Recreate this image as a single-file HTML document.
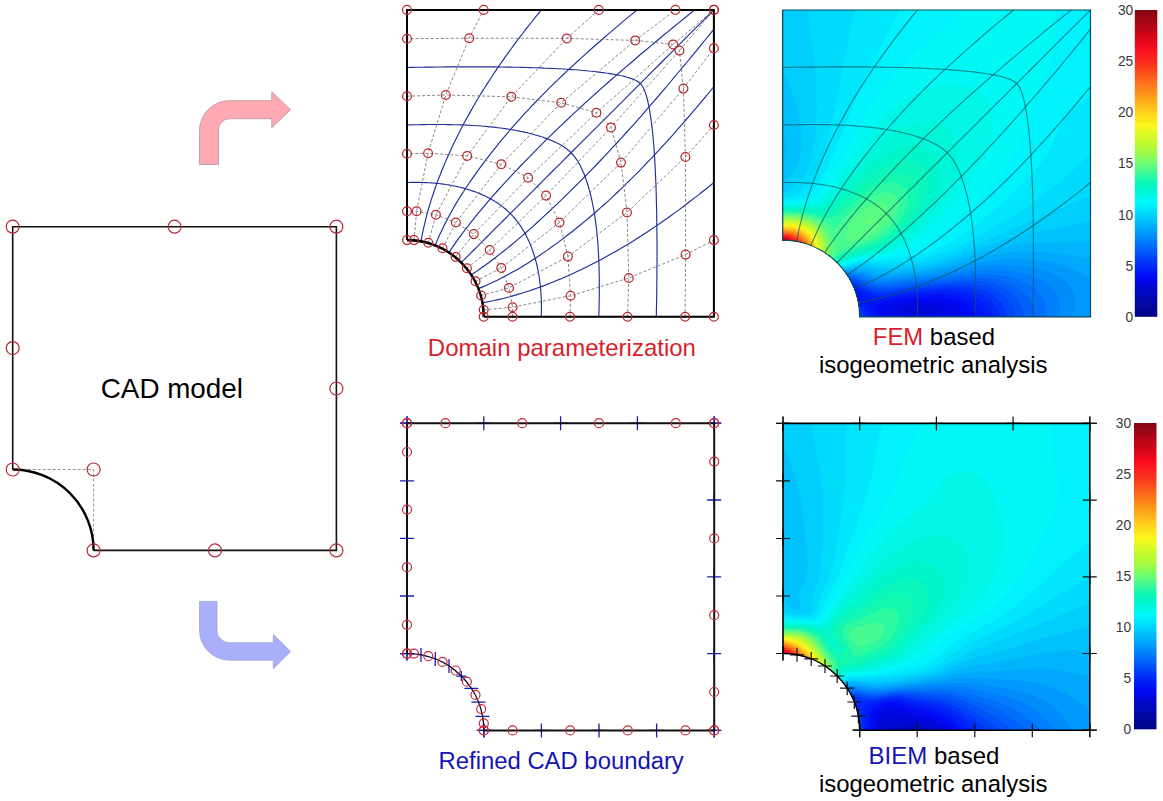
<!DOCTYPE html><html><head><meta charset="utf-8"><style>html,body{margin:0;padding:0;background:#fff}body{width:1163px;height:801px;overflow:hidden}</style></head><body><svg width="1163" height="801" viewBox="0 0 1163 801" style="display:block;font-family:'Liberation Sans',sans-serif">
<rect width="1163" height="801" fill="#fff"/>
<g fill="none">
<path d="M12.7,469.5 H93.6 V550.4" stroke="#777" stroke-width="0.8" stroke-dasharray="3,2"/>
<path d="M12.7,469.5 V226.7 H336.4 V550.4 H93.6" stroke="#111" stroke-width="1.6" stroke-linejoin="miter"/>
<path d="M12.7,469.5 A80.9,80.9 0 0 1 93.6,550.4" stroke="#000" stroke-width="2.4"/>
<g stroke="#b8283a" stroke-width="1.2">
<circle cx="12.7" cy="469.5" r="6.5"/>
<circle cx="12.7" cy="348.1" r="6.5"/>
<circle cx="12.7" cy="226.7" r="6.5"/>
<circle cx="174.6" cy="226.7" r="6.5"/>
<circle cx="336.4" cy="226.7" r="6.5"/>
<circle cx="336.4" cy="388.5" r="6.5"/>
<circle cx="336.4" cy="550.4" r="6.5"/>
<circle cx="215.0" cy="550.4" r="6.5"/>
<circle cx="93.6" cy="550.4" r="6.5"/>
<circle cx="93.6" cy="469.5" r="6.5"/>
</g></g>
<text x="100.8" y="397.7" font-size="27.8" fill="#000">CAD model</text>
<path d="M199.5,164.5 V130.7 A30,30 0 0 1 229.5,100.7 H271.8 V91.7 L290.5,109.7 L271.8,127.7 V118.7 H229.5 A11,11 0 0 0 218.5,129.7 V164.5 Z" fill="#ffa9b2" stroke="#c4a0a8" stroke-width="1"/>
<path d="M199.5,601.4 H217 V630.2 A12.5,12.5 0 0 0 229.5,642.7 H273.3 V634.3 L290.6,651.5 L273.3,668.8 V660.2 H229.5 A30,30 0 0 1 199.5,630.2 Z" fill="#a9affa" stroke="#a3a6d4" stroke-width="0.8"/>
<g fill="none">
<g stroke="#1f2f9a" stroke-width="1.15">
<path d="M482.4,302.8 L486.4,302.1 L490.3,301.3 L494.2,300.5 L498.1,299.6 L502.0,298.7 L506.0,297.7 L509.9,296.7 L513.8,295.6 L517.8,294.4 L521.7,293.2 L525.6,292.0 L529.6,290.7 L533.5,289.4 L537.5,288.0 L541.4,286.6 L545.4,285.1 L549.3,283.5 L553.3,282.0 L557.2,280.3 L561.2,278.7 L565.1,277.0 L569.1,275.2 L573.0,273.4 L577.0,271.6 L581.0,269.7 L584.9,267.8 L588.9,265.8 L592.9,263.8 L596.8,261.8 L600.8,259.7 L604.8,257.5 L608.7,255.3 L612.7,253.1 L616.6,250.9 L620.6,248.6 L624.5,246.2 L628.5,243.9 L632.4,241.5 L636.3,239.0 L640.2,236.5 L644.1,234.0 L648.0,231.4 L652.0,228.8 L655.9,226.1 L659.8,223.5 L663.7,220.7 L667.6,218.0 L671.4,215.2 L675.3,212.4 L679.2,209.6 L683.1,206.7 L686.9,203.8 L690.8,200.8 L694.6,197.9 L698.5,194.9 L702.3,191.8 L706.2,188.8 L710.0,185.7 L713.9,182.5"/>
<path d="M478.3,288.6 L482.1,287.1 L485.9,285.5 L489.7,283.8 L493.4,282.0 L497.3,280.2 L501.1,278.3 L504.9,276.3 L508.7,274.3 L512.6,272.1 L516.5,269.9 L520.4,267.7 L524.3,265.3 L528.2,262.9 L532.1,260.3 L536.1,257.8 L540.1,255.1 L544.0,252.4 L548.0,249.6 L552.0,246.8 L556.0,243.9 L560.0,240.9 L564.0,237.9 L568.0,234.8 L572.0,231.7 L576.0,228.5 L580.1,225.2 L584.1,221.9 L588.2,218.5 L592.3,215.0 L596.4,211.5 L600.4,207.9 L604.5,204.2 L608.6,200.6 L612.7,196.8 L616.7,193.0 L620.8,189.1 L624.9,185.2 L628.9,181.2 L633.0,177.2 L637.1,173.1 L641.2,168.9 L645.2,164.7 L649.3,160.4 L653.4,156.1 L657.5,151.7 L661.6,147.2 L665.7,142.8 L669.7,138.3 L673.8,133.8 L677.8,129.2 L681.8,124.6 L685.8,120.0 L689.9,115.3 L693.9,110.6 L697.9,105.9 L701.9,101.2 L705.9,96.4 L709.9,91.5 L713.9,86.6"/>
<path d="M471.2,274.8 L474.7,272.6 L478.1,270.2 L481.6,267.8 L485.2,265.3 L488.7,262.7 L492.3,260.0 L495.9,257.3 L499.5,254.4 L503.2,251.5 L506.9,248.6 L510.7,245.5 L514.4,242.4 L518.2,239.1 L522.1,235.9 L526.0,232.5 L529.9,229.1 L533.8,225.6 L537.7,222.0 L541.7,218.4 L545.7,214.7 L549.7,211.0 L553.7,207.1 L557.8,203.3 L561.9,199.3 L566.0,195.3 L570.2,191.2 L574.4,187.1 L578.6,182.9 L582.9,178.6 L587.1,174.3 L591.4,169.9 L595.7,165.5 L600.0,161.0 L604.3,156.4 L608.6,151.9 L612.9,147.2 L617.3,142.5 L621.6,137.8 L625.9,133.0 L630.3,128.2 L634.7,123.3 L639.1,118.3 L643.5,113.3 L647.9,108.2 L652.3,103.1 L656.7,98.0 L661.1,92.8 L665.6,87.7 L670.0,82.5 L674.3,77.2 L678.7,72.0 L683.1,66.7 L687.5,61.5 L691.9,56.1 L696.3,50.8 L700.7,45.4 L705.1,40.0 L709.5,34.6 L713.9,29.1"/>
<path d="M461.2,262.6 L464.2,259.6 L467.2,256.6 L470.2,253.6 L473.3,250.5 L476.5,247.3 L479.7,244.1 L483.0,240.8 L486.3,237.5 L489.7,234.1 L493.1,230.7 L496.6,227.2 L500.2,223.6 L503.8,220.0 L507.5,216.3 L511.2,212.6 L515.0,208.8 L518.9,204.9 L522.7,201.1 L526.7,197.1 L530.7,193.1 L534.7,189.1 L538.8,185.0 L542.9,180.9 L547.1,176.7 L551.3,172.5 L555.6,168.2 L560.0,163.8 L564.4,159.4 L568.8,155.0 L573.3,150.5 L577.9,145.9 L582.4,141.4 L587.0,136.8 L591.6,132.2 L596.2,127.6 L600.9,122.9 L605.5,118.3 L610.2,113.6 L615.0,108.8 L619.7,104.1 L624.5,99.3 L629.4,94.4 L634.2,89.6 L639.1,84.7 L644.0,79.8 L648.9,74.9 L653.9,69.9 L658.8,65.0 L663.8,60.0 L668.7,55.1 L673.7,50.1 L678.6,45.2 L683.6,40.2 L688.6,35.2 L693.6,30.2 L698.7,25.1 L703.7,20.1 L708.8,15.0 L713.9,9.9"/>
<path d="M449.0,252.6 L451.2,249.1 L453.6,245.7 L456.0,242.2 L458.5,238.6 L461.1,235.1 L463.8,231.5 L466.5,227.9 L469.4,224.3 L472.3,220.6 L475.2,216.9 L478.3,213.1 L481.4,209.4 L484.7,205.6 L487.9,201.7 L491.3,197.8 L494.7,193.9 L498.2,190.0 L501.8,186.1 L505.4,182.1 L509.1,178.1 L512.8,174.1 L516.7,170.1 L520.5,166.0 L524.5,161.9 L528.5,157.8 L532.6,153.6 L536.7,149.4 L540.9,145.2 L545.2,140.9 L549.5,136.7 L553.9,132.4 L558.3,128.1 L562.8,123.8 L567.4,119.5 L571.9,115.2 L576.6,110.9 L581.3,106.5 L586.0,102.2 L590.8,97.9 L595.6,93.5 L600.5,89.1 L605.5,84.7 L610.5,80.3 L615.6,75.9 L620.7,71.5 L625.8,67.1 L631.0,62.7 L636.1,58.2 L641.3,53.8 L646.6,49.5 L651.8,45.1 L657.1,40.7 L662.3,36.3 L667.7,31.9 L673.0,27.5 L678.4,23.1 L683.8,18.7 L689.2,14.3 L694.7,9.9"/>
<path d="M435.2,245.5 L436.7,241.7 L438.3,237.9 L440.0,234.1 L441.8,230.4 L443.6,226.5 L445.5,222.7 L447.5,218.9 L449.5,215.1 L451.7,211.2 L453.9,207.3 L456.1,203.4 L458.5,199.5 L460.9,195.6 L463.5,191.7 L466.0,187.7 L468.7,183.7 L471.4,179.8 L474.2,175.8 L477.0,171.8 L479.9,167.8 L482.9,163.8 L485.9,159.8 L489.0,155.8 L492.1,151.8 L495.3,147.8 L498.6,143.7 L501.9,139.7 L505.3,135.6 L508.8,131.5 L512.3,127.4 L515.9,123.4 L519.6,119.3 L523.2,115.2 L527.0,111.1 L530.8,107.1 L534.7,103.0 L538.6,98.9 L542.6,94.9 L546.6,90.8 L550.7,86.7 L554.9,82.6 L559.1,78.6 L563.4,74.5 L567.7,70.4 L572.1,66.3 L576.6,62.2 L581.0,58.1 L585.5,54.1 L590.0,50.0 L594.6,46.0 L599.2,42.0 L603.8,38.0 L608.5,33.9 L613.2,29.9 L617.9,25.9 L622.6,21.9 L627.4,17.9 L632.3,13.9 L637.2,9.9"/>
<path d="M421.0,241.4 L421.7,237.4 L422.5,233.5 L423.3,229.6 L424.2,225.7 L425.1,221.8 L426.1,217.8 L427.1,213.9 L428.2,210.0 L429.4,206.0 L430.6,202.1 L431.8,198.2 L433.1,194.2 L434.4,190.3 L435.8,186.3 L437.2,182.4 L438.7,178.4 L440.3,174.5 L441.8,170.5 L443.5,166.6 L445.1,162.6 L446.8,158.7 L448.6,154.7 L450.4,150.8 L452.2,146.8 L454.1,142.8 L456.0,138.9 L458.0,134.9 L460.0,130.9 L462.0,127.0 L464.1,123.0 L466.3,119.0 L468.5,115.1 L470.7,111.1 L472.9,107.2 L475.2,103.2 L477.6,99.3 L479.9,95.3 L482.3,91.4 L484.8,87.5 L487.3,83.6 L489.8,79.7 L492.4,75.8 L495.0,71.8 L497.7,67.9 L500.3,64.0 L503.1,60.1 L505.8,56.2 L508.6,52.4 L511.4,48.5 L514.2,44.6 L517.1,40.7 L520.0,36.9 L523.0,33.0 L525.9,29.2 L528.9,25.3 L532.0,21.5 L535.0,17.6 L538.1,13.8 L541.3,9.9"/>
<path d="M541.3,316.8 L541.3,315.3 L541.3,313.8 L541.4,312.3 L541.4,310.7 L541.4,309.2 L541.4,307.7 L541.4,306.2 L541.4,304.7 L541.4,303.2 L541.3,301.7 L541.3,300.2 L541.2,298.7 L541.2,297.2 L541.1,295.7 L541.0,294.2 L540.9,292.7 L540.8,291.2 L540.7,289.7 L540.5,288.2 L540.4,286.7 L540.3,285.2 L540.1,283.8 L539.9,282.3 L539.7,280.8 L539.5,279.4 L539.3,277.9 L539.1,276.5 L538.9,275.0 L538.6,273.6 L538.3,272.1 L538.1,270.7 L537.8,269.3 L537.5,267.9 L537.2,266.4 L536.8,265.0 L536.5,263.6 L536.2,262.2 L535.8,260.8 L535.4,259.5 L535.0,258.1 L534.6,256.7 L534.2,255.3 L533.8,254.0 L533.3,252.7 L532.9,251.3 L532.4,250.0 L532.0,248.7 L531.5,247.4 L531.0,246.2 L530.5,244.9 L529.9,243.6 L529.4,242.4 L528.9,241.2 L528.3,240.0 L527.8,238.7 L527.2,237.6 L526.6,236.4 L526.0,235.2 L525.4,234.1 L524.7,232.9 L524.1,231.8 L523.5,230.7 L522.8,229.6 L522.1,228.5 L521.5,227.4 L520.8,226.4 L520.1,225.3 L519.3,224.3 L518.6,223.3 L517.9,222.3 L517.1,221.3 L516.4,220.3 L515.6,219.4 L514.8,218.4 L514.0,217.5 L513.2,216.6 L512.4,215.7 L511.6,214.8 L510.7,213.9 L510.3,213.5 L509.9,213.1 L509.0,212.2 L508.1,211.4 L507.2,210.6 L506.3,209.8 L505.4,209.0 L504.4,208.2 L503.5,207.4 L502.5,206.7 L501.5,205.9 L500.5,205.2 L499.5,204.5 L498.5,203.7 L497.4,203.0 L496.4,202.3 L495.3,201.7 L494.2,201.0 L493.1,200.3 L492.0,199.7 L490.9,199.1 L489.7,198.4 L488.6,197.8 L487.4,197.2 L486.2,196.6 L485.1,196.0 L483.8,195.5 L482.6,194.9 L481.4,194.4 L480.2,193.9 L478.9,193.3 L477.6,192.8 L476.4,192.3 L475.1,191.8 L473.8,191.4 L472.5,190.9 L471.1,190.5 L469.8,190.0 L468.5,189.6 L467.1,189.2 L465.7,188.8 L464.3,188.4 L463.0,188.0 L461.6,187.6 L460.2,187.3 L458.8,187.0 L457.4,186.6 L455.9,186.3 L454.5,186.0 L453.1,185.7 L451.7,185.5 L450.2,185.2 L448.8,184.9 L447.3,184.7 L445.9,184.5 L444.4,184.3 L443.0,184.1 L441.5,183.9 L440.0,183.7 L438.6,183.5 L437.1,183.4 L435.6,183.3 L434.1,183.1 L432.6,183.0 L431.1,182.9 L429.6,182.8 L428.1,182.7 L426.6,182.6 L425.1,182.6 L423.6,182.5 L422.1,182.5 L420.6,182.4 L419.1,182.4 L417.6,182.4 L416.1,182.4 L414.6,182.4 L413.1,182.4 L411.5,182.4 L410.0,182.5 L408.5,182.5 L407.0,182.5"/>
<path d="M598.8,316.8 L598.9,313.8 L599.0,310.8 L599.1,307.9 L599.1,305.0 L599.2,302.0 L599.2,299.1 L599.3,296.3 L599.3,293.4 L599.3,290.5 L599.3,287.7 L599.3,284.9 L599.3,282.1 L599.3,279.3 L599.2,276.6 L599.2,273.8 L599.1,271.1 L599.1,268.4 L599.0,265.7 L598.9,263.0 L598.8,260.4 L598.7,257.8 L598.6,255.2 L598.4,252.6 L598.3,250.0 L598.1,247.5 L598.0,245.0 L597.8,242.5 L597.6,240.1 L597.4,237.6 L597.1,235.2 L596.9,232.9 L596.7,230.5 L596.4,228.2 L596.1,225.9 L595.8,223.6 L595.5,221.4 L595.2,219.2 L594.9,217.0 L594.6,214.8 L594.2,212.7 L593.9,210.6 L593.5,208.5 L593.1,206.5 L592.7,204.5 L592.3,202.5 L591.9,200.5 L591.4,198.5 L591.0,196.6 L590.6,194.7 L590.1,192.9 L589.6,191.1 L589.1,189.3 L588.6,187.5 L588.1,185.7 L587.6,184.0 L587.0,182.3 L586.5,180.7 L585.9,179.1 L585.4,177.4 L584.8,175.9 L584.2,174.3 L583.6,172.8 L582.9,171.4 L582.3,170.0 L581.7,168.6 L581.0,167.2 L580.4,165.9 L579.7,164.6 L579.0,163.4 L578.3,162.2 L577.6,161.0 L576.9,159.9 L576.1,158.8 L575.4,157.8 L574.6,156.8 L573.8,155.8 L573.1,154.9 L572.3,154.0 L571.5,153.1 L571.1,152.7 L570.7,152.3 L569.8,151.5 L568.9,150.7 L568.0,150.0 L567.0,149.2 L566.0,148.4 L565.0,147.7 L563.9,146.9 L562.8,146.2 L561.6,145.5 L560.4,144.8 L559.2,144.1 L557.9,143.4 L556.6,142.8 L555.2,142.1 L553.8,141.5 L552.4,140.9 L551.0,140.2 L549.5,139.6 L547.9,139.0 L546.4,138.4 L544.7,137.9 L543.1,137.3 L541.5,136.8 L539.8,136.2 L538.1,135.7 L536.3,135.2 L534.5,134.7 L532.7,134.2 L530.9,133.7 L529.1,133.2 L527.2,132.8 L525.3,132.4 L523.3,131.9 L521.3,131.5 L519.3,131.1 L517.3,130.7 L515.3,130.3 L513.2,129.9 L511.1,129.6 L509.0,129.2 L506.8,128.9 L504.6,128.6 L502.4,128.3 L500.2,128.0 L497.9,127.7 L495.6,127.4 L493.3,127.1 L490.9,126.9 L488.6,126.7 L486.2,126.4 L483.7,126.2 L481.3,126.0 L478.8,125.8 L476.3,125.7 L473.8,125.5 L471.2,125.4 L468.6,125.2 L466.0,125.1 L463.4,125.0 L460.8,124.9 L458.1,124.8 L455.4,124.7 L452.7,124.7 L450.0,124.6 L447.2,124.6 L444.5,124.5 L441.7,124.5 L438.9,124.5 L436.1,124.5 L433.3,124.5 L430.4,124.5 L427.5,124.5 L424.7,124.6 L421.8,124.6 L418.8,124.7 L415.9,124.7 L413.0,124.8 L410.0,124.9 L407.0,125.0"/>
<path d="M656.3,316.8 L656.4,311.7 L656.5,306.7 L656.6,301.8 L656.7,296.9 L656.7,292.0 L656.8,287.2 L656.8,282.5 L656.9,277.7 L656.9,273.1 L656.9,268.5 L657.0,263.9 L657.0,259.4 L657.0,254.9 L657.0,250.5 L657.0,246.1 L657.0,241.8 L656.9,237.5 L656.9,233.3 L656.9,229.1 L656.8,225.0 L656.8,220.9 L656.7,216.9 L656.7,212.9 L656.6,209.0 L656.5,205.2 L656.4,201.4 L656.3,197.6 L656.2,193.9 L656.1,190.3 L656.0,186.8 L655.9,183.2 L655.7,179.8 L655.6,176.4 L655.4,173.1 L655.3,169.8 L655.1,166.5 L655.0,163.4 L654.8,160.3 L654.6,157.2 L654.4,154.2 L654.2,151.3 L654.0,148.4 L653.8,145.6 L653.5,142.8 L653.3,140.1 L653.1,137.4 L652.8,134.8 L652.6,132.3 L652.3,129.8 L652.0,127.4 L651.7,125.0 L651.4,122.7 L651.2,120.4 L650.8,118.2 L650.5,116.1 L650.2,114.0 L649.9,112.0 L649.6,110.0 L649.2,108.1 L648.9,106.3 L648.5,104.5 L648.1,102.8 L647.8,101.1 L647.4,99.5 L647.0,98.0 L646.6,96.6 L646.2,95.2 L645.7,93.9 L645.3,92.6 L644.9,91.4 L644.4,90.3 L644.0,89.2 L643.5,88.3 L643.1,87.3 L642.6,86.5 L642.1,85.7 L641.6,85.0 L641.1,84.3 L640.6,83.7 L640.3,83.5 L640.1,83.2 L639.5,82.7 L638.8,82.2 L638.1,81.7 L637.3,81.2 L636.5,80.7 L635.5,80.3 L634.6,79.8 L633.5,79.4 L632.4,78.9 L631.2,78.5 L629.9,78.1 L628.6,77.6 L627.2,77.2 L625.8,76.8 L624.3,76.4 L622.7,76.0 L621.0,75.7 L619.3,75.3 L617.5,74.9 L615.7,74.6 L613.8,74.2 L611.8,73.9 L609.8,73.6 L607.7,73.3 L605.6,73.0 L603.4,72.6 L601.1,72.4 L598.8,72.1 L596.4,71.8 L594.0,71.5 L591.5,71.2 L589.0,71.0 L586.4,70.7 L583.7,70.5 L581.0,70.3 L578.2,70.0 L575.4,69.8 L572.5,69.6 L569.6,69.4 L566.6,69.2 L563.5,69.0 L560.4,68.8 L557.3,68.7 L554.0,68.5 L550.7,68.4 L547.4,68.2 L544.0,68.1 L540.6,67.9 L537.0,67.8 L533.5,67.7 L529.9,67.6 L526.2,67.5 L522.4,67.4 L518.6,67.3 L514.8,67.2 L510.9,67.1 L506.9,67.1 L502.9,67.0 L498.8,67.0 L494.7,66.9 L490.5,66.9 L486.3,66.9 L482.0,66.8 L477.7,66.8 L473.3,66.8 L468.9,66.8 L464.4,66.8 L459.9,66.8 L455.3,66.9 L450.7,66.9 L446.1,66.9 L441.3,67.0 L436.6,67.0 L431.8,67.1 L426.9,67.1 L422.0,67.2 L417.1,67.3 L412.1,67.4 L407.0,67.5"/>
</g>
<g stroke="#6a6a6a" stroke-width="0.8" stroke-dasharray="3,2">
<path d="M512.5,316.8 L512.6,307.2 L509.0,287.9 L501.3,267.9 L489.7,250.0 L473.8,234.1 L455.9,222.5 L435.9,214.8 L416.6,211.2 L407.0,211.3"/>
<path d="M570.0,316.8 L570.6,295.7 L567.9,256.6 L559.5,222.4 L546.1,195.6 L528.2,177.7 L501.4,164.3 L467.2,155.9 L428.1,153.2 L407.0,153.8"/>
<path d="M627.6,316.8 L628.8,278.0 L627.0,212.5 L621.0,162.6 L611.0,127.4 L596.4,112.8 L561.2,102.8 L511.3,96.8 L445.8,95.0 L407.0,96.2"/>
<path d="M685.1,316.8 L685.6,254.6 L685.4,157.0 L683.4,88.6 L679.4,50.6 L673.2,44.4 L635.2,40.4 L566.8,38.4 L469.2,38.2 L407.0,38.7"/>
<path d="M713.9,316.8 L713.9,240.1 L713.9,125.0 L713.9,48.3 L713.9,9.9 L713.9,9.9 L675.5,9.9 L598.8,9.9 L483.7,9.9 L407.0,9.9"/>
<path d="M483.7,316.8 L512.5,316.8 L570.0,316.8 L627.6,316.8 L685.1,316.8 L713.9,316.8"/>
<path d="M483.7,309.8 L512.6,307.2 L570.6,295.7 L628.8,278.0 L685.6,254.6 L713.9,240.1"/>
<path d="M481.1,295.5 L509.0,287.9 L567.9,256.6 L627.0,212.5 L685.4,157.0 L713.9,125.0"/>
<path d="M475.5,281.3 L501.3,267.9 L559.5,222.4 L621.0,162.6 L683.4,88.6 L713.9,48.3"/>
<path d="M466.9,268.2 L489.7,250.0 L546.1,195.6 L611.0,127.4 L679.4,50.6 L713.9,9.9"/>
<path d="M455.6,256.9 L473.8,234.1 L528.2,177.7 L596.4,112.8 L673.2,44.4 L713.9,9.9"/>
<path d="M442.5,248.3 L455.9,222.5 L501.4,164.3 L561.2,102.8 L635.2,40.4 L675.5,9.9"/>
<path d="M428.3,242.7 L435.9,214.8 L467.2,155.9 L511.3,96.8 L566.8,38.4 L598.8,9.9"/>
<path d="M414.0,240.1 L416.6,211.2 L428.1,153.2 L445.8,95.0 L469.2,38.2 L483.7,9.9"/>
<path d="M407.0,240.1 L407.0,211.3 L407.0,153.8 L407.0,96.2 L407.0,38.7 L407.0,9.9"/>
</g>
<path d="M407.0,240.1 V9.9 H713.9 V316.8 H483.7" stroke="#000" stroke-width="2" stroke-linejoin="miter"/>
<path d="M407.0,240.1 A76.7,76.7 0 0 1 483.7,316.8" stroke="#000" stroke-width="2.6"/>
<g stroke="#b8252c" stroke-width="1.25">
<circle cx="483.7" cy="316.8" r="4.4"/>
<circle cx="512.5" cy="316.8" r="4.4"/>
<circle cx="570.0" cy="316.8" r="4.4"/>
<circle cx="627.6" cy="316.8" r="4.4"/>
<circle cx="685.1" cy="316.8" r="4.4"/>
<circle cx="713.9" cy="316.8" r="4.4"/>
<circle cx="483.7" cy="309.8" r="4.4"/>
<circle cx="512.6" cy="307.2" r="4.4"/>
<circle cx="570.6" cy="295.7" r="4.4"/>
<circle cx="628.8" cy="278.0" r="4.4"/>
<circle cx="685.6" cy="254.6" r="4.4"/>
<circle cx="713.9" cy="240.1" r="4.4"/>
<circle cx="481.1" cy="295.5" r="4.4"/>
<circle cx="509.0" cy="287.9" r="4.4"/>
<circle cx="567.9" cy="256.6" r="4.4"/>
<circle cx="627.0" cy="212.5" r="4.4"/>
<circle cx="685.4" cy="157.0" r="4.4"/>
<circle cx="713.9" cy="125.0" r="4.4"/>
<circle cx="475.5" cy="281.3" r="4.4"/>
<circle cx="501.3" cy="267.9" r="4.4"/>
<circle cx="559.5" cy="222.4" r="4.4"/>
<circle cx="621.0" cy="162.6" r="4.4"/>
<circle cx="683.4" cy="88.6" r="4.4"/>
<circle cx="713.9" cy="48.3" r="4.4"/>
<circle cx="466.9" cy="268.2" r="4.4"/>
<circle cx="489.7" cy="250.0" r="4.4"/>
<circle cx="546.1" cy="195.6" r="4.4"/>
<circle cx="611.0" cy="127.4" r="4.4"/>
<circle cx="679.4" cy="50.6" r="4.4"/>
<circle cx="713.9" cy="9.9" r="4.4"/>
<circle cx="455.6" cy="256.9" r="4.4"/>
<circle cx="473.8" cy="234.1" r="4.4"/>
<circle cx="528.2" cy="177.7" r="4.4"/>
<circle cx="596.4" cy="112.8" r="4.4"/>
<circle cx="673.2" cy="44.4" r="4.4"/>
<circle cx="713.9" cy="9.9" r="4.4"/>
<circle cx="442.5" cy="248.3" r="4.4"/>
<circle cx="455.9" cy="222.5" r="4.4"/>
<circle cx="501.4" cy="164.3" r="4.4"/>
<circle cx="561.2" cy="102.8" r="4.4"/>
<circle cx="635.2" cy="40.4" r="4.4"/>
<circle cx="675.5" cy="9.9" r="4.4"/>
<circle cx="428.3" cy="242.7" r="4.4"/>
<circle cx="435.9" cy="214.8" r="4.4"/>
<circle cx="467.2" cy="155.9" r="4.4"/>
<circle cx="511.3" cy="96.8" r="4.4"/>
<circle cx="566.8" cy="38.4" r="4.4"/>
<circle cx="598.8" cy="9.9" r="4.4"/>
<circle cx="414.0" cy="240.1" r="4.4"/>
<circle cx="416.6" cy="211.2" r="4.4"/>
<circle cx="428.1" cy="153.2" r="4.4"/>
<circle cx="445.8" cy="95.0" r="4.4"/>
<circle cx="469.2" cy="38.2" r="4.4"/>
<circle cx="483.7" cy="9.9" r="4.4"/>
<circle cx="407.0" cy="240.1" r="4.4"/>
<circle cx="407.0" cy="211.3" r="4.4"/>
<circle cx="407.0" cy="153.8" r="4.4"/>
<circle cx="407.0" cy="96.2" r="4.4"/>
<circle cx="407.0" cy="38.7" r="4.4"/>
<circle cx="407.0" cy="9.9" r="4.4"/>
</g></g>
<text x="427.8" y="355.7" font-size="24" fill="#d81e2c">Domain parameterization</text>
<g fill="none">
<g stroke="#1b1bb5" stroke-width="1.3">
<path d="M400.0,653.6h14M407.0,646.6v14"/>
<path d="M400.0,596.0h14M407.0,589.0v14"/>
<path d="M400.0,538.4h14M407.0,531.4v14"/>
<path d="M400.0,480.8h14M407.0,473.8v14"/>
<path d="M400.0,423.2h14M407.0,416.2v14"/>
<path d="M400.0,423.2h14M407.0,416.2v14"/>
<path d="M476.8,423.2h14M483.8,416.2v14"/>
<path d="M553.6,423.2h14M560.6,416.2v14"/>
<path d="M630.4,423.2h14M637.4,416.2v14"/>
<path d="M707.2,423.2h14M714.2,416.2v14"/>
<path d="M707.2,423.2h14M714.2,416.2v14"/>
<path d="M707.2,500.0h14M714.2,493.0v14"/>
<path d="M707.2,576.8h14M714.2,569.8v14"/>
<path d="M707.2,653.6h14M714.2,646.6v14"/>
<path d="M707.2,730.4h14M714.2,723.4v14"/>
<path d="M707.2,730.4h14M714.2,723.4v14"/>
<path d="M649.6,730.4h14M656.6,723.4v14"/>
<path d="M592.0,730.4h14M599.0,723.4v14"/>
<path d="M534.4,730.4h14M541.4,723.4v14"/>
<path d="M476.8,730.4h14M483.8,723.4v14"/>
<path d="M400.0,653.6h14M407.0,646.6v14"/>
<path d="M476.8,730.4h14M483.8,723.4v14"/>
<path d="M421.0,647.9v14"/>
<path d="M435.3,652.0v14"/>
<path d="M449.0,659.1v14"/>
<path d="M456.3,676.1h10M461.3,671.1v10"/>
<path d="M464.3,688.4h14"/>
<path d="M471.4,702.1h14"/>
<path d="M475.5,716.4h14"/>
</g>
<path d="M407.0,653.6 V423.2 H714.2 V730.4 H483.8" stroke="#111" stroke-width="2" stroke-linejoin="miter"/>
<path d="M407.0,653.6 A76.8,76.8 0 0 1 483.8,730.4" stroke="#0a0a30" stroke-width="1.4"/>
<g stroke="#c8283a" stroke-width="1.2">
<circle cx="407.0" cy="653.6" r="4.5"/>
<circle cx="407.0" cy="624.8" r="4.5"/>
<circle cx="407.0" cy="567.2" r="4.5"/>
<circle cx="407.0" cy="509.6" r="4.5"/>
<circle cx="407.0" cy="452.0" r="4.5"/>
<circle cx="407.0" cy="423.2" r="4.5"/>
<circle cx="407.0" cy="423.2" r="4.5"/>
<circle cx="445.4" cy="423.2" r="4.5"/>
<circle cx="522.2" cy="423.2" r="4.5"/>
<circle cx="599.0" cy="423.2" r="4.5"/>
<circle cx="675.8" cy="423.2" r="4.5"/>
<circle cx="714.2" cy="423.2" r="4.5"/>
<circle cx="714.2" cy="423.2" r="4.5"/>
<circle cx="714.2" cy="461.6" r="4.5"/>
<circle cx="714.2" cy="538.4" r="4.5"/>
<circle cx="714.2" cy="615.2" r="4.5"/>
<circle cx="714.2" cy="692.0" r="4.5"/>
<circle cx="714.2" cy="730.4" r="4.5"/>
<circle cx="714.2" cy="730.4" r="4.5"/>
<circle cx="685.4" cy="730.4" r="4.5"/>
<circle cx="627.8" cy="730.4" r="4.5"/>
<circle cx="570.2" cy="730.4" r="4.5"/>
<circle cx="512.6" cy="730.4" r="4.5"/>
<circle cx="483.8" cy="730.4" r="4.5"/>
<circle cx="483.8" cy="730.4" r="4.5"/>
<circle cx="483.8" cy="723.4" r="4.5"/>
<circle cx="481.2" cy="709.1" r="4.5"/>
<circle cx="475.5" cy="694.9" r="4.5"/>
<circle cx="466.9" cy="681.7" r="4.5"/>
<circle cx="455.7" cy="670.5" r="4.5"/>
<circle cx="442.5" cy="661.9" r="4.5"/>
<circle cx="428.3" cy="656.2" r="4.5"/>
<circle cx="414.0" cy="653.6" r="4.5"/>
<circle cx="407.0" cy="653.6" r="4.5"/>
</g></g>
<text x="438.6" y="768.7" font-size="23.85" fill="#1414b4">Refined CAD boundary</text>
<g transform="translate(0,316.8) scale(1,0.9968) translate(0,-316.8)">
<clipPath id="cp1"><path d="M782.7,239.9 L782.7,9.0 L1090.5,9.0 L1090.5,316.8 L859.7,316.8 A77.0,77.0 0 0 0 782.7,239.9 Z"/></clipPath>
<g clip-path="url(#cp1)">
<rect x="781.7" y="8.0" width="309.8" height="309.8" fill="#00068a"/>
<path fill="#000692" fill-rule="evenodd" d="M1092.7,319 779.7,319 779.7,6 1092.7,6Z"/>
<path fill="#00089c" fill-rule="evenodd" d="M1092.7,319 779.7,319 779.7,6 1092.7,6Z"/>
<path fill="#0008a6" fill-rule="evenodd" d="M1092.7,319 779.7,319 779.7,6 1092.7,6Z"/>
<path fill="#0008b1" fill-rule="evenodd" d="M1092.7,319 779.7,319 779.7,6 1092.7,6Z"/>
<path fill="#0008bd" fill-rule="evenodd" d="M1092.7,319 779.7,319 779.7,6 1092.7,6Z"/>
<path fill="#0008c8" fill-rule="evenodd" d="M1092.7,319 779.7,319 779.7,6 1092.7,6Z"/>
<path fill="#0008d8" fill-rule="evenodd" d="M1092.7,319 779.7,319 779.7,6 1092.7,6Z"/>
<path fill="#0008e7" fill-rule="evenodd" d="M1092.7,319 779.7,319 779.7,6 1092.7,6ZM931.7,315 937.7,314.1 940.8,313 941.9,312 942.1,311 941.7,310 939.7,308.5 936.7,307.3 928.7,306.2 905.7,307.3 902.3,308 900.4,309 899.7,310 899.9,311 900.9,312 906.7,313.9 919.7,315Z"/>
<path fill="#0009f5" fill-rule="evenodd" d="M1092.7,319 964.9,319 964.6,315 963,312 958.9,308 954.2,305 949.5,303 943.7,301.5 937.7,300.6 930.7,300.4 901.8,302 894.7,303.2 888.7,305.2 885.1,308 884.7,309 885,311 887.9,314 894.2,317 894.2,319 779.7,319 779.7,6 1092.7,6Z"/>
<path fill="#0014f6" fill-rule="evenodd" d="M1092.7,319 977.7,319 977.4,316 974.2,311 970.1,307 963.9,303 956.9,300 950.7,298.3 942.7,297.1 934.7,296.7 899.5,299 888,301 879.7,303.5 877,305 876.1,306 875.6,309 877.8,313 883.2,317 883.2,319 779.7,319 779.7,6 1092.7,6ZM819.2,307 819.7,306.4 823,306 823.7,305.5 856.6,297 856.9,296 855.7,295.5 853.4,296 819.5,306 818.7,306.7 816.1,307ZM811.8,309 812.7,308.1 815.5,308 812.7,308 811.7,308.9 809.3,309ZM808,310 805.9,310ZM804.2,311 802.5,311ZM800.5,312 799.2,312ZM796.8,313 795.7,313ZM792.9,314 792.5,314Z"/>
<path fill="#001ef7" fill-rule="evenodd" d="M1092.7,319 986.5,319 986.2,316 984.2,312 981.1,308 977.7,304.8 973.6,302 968.7,299.5 962.7,297.2 956.7,295.6 945.7,294 930.7,293.9 903.7,296 879.7,299.4 873.7,299.6 870.7,298.9 867.7,297.6 854.7,289.5 787.5,315 786.7,315.9 784.9,316 786.7,316 787.7,315.3 792.2,315 858.7,302.4 862.7,303.1 865.7,304.9 871.7,313.7 875,317 875,319 779.7,319 779.7,6 1092.7,6Z"/>
<path fill="#0028f8" fill-rule="evenodd" d="M1092.7,319 993.7,319 993.5,316 991.4,311 988.7,307 984.8,303 980.8,300 975.7,297.3 964.7,293.5 951.7,291.4 936.7,291.2 912.2,293 883.7,296.4 877.7,296.6 871.7,295.3 859.7,289.8 852.7,285.7 784.7,316.2 786.7,316.3 858.7,305.9 861.7,307.5 864.7,310.5 869.3,317 869.3,319 779.7,319 779.7,6 1092.7,6Z"/>
<path fill="#0036f8" fill-rule="evenodd" d="M1092.7,319 1000.4,319 1000.2,316 997.9,310 994.8,305 991.3,301 987.5,298 982.3,295 976.7,292.7 970.8,291 957.7,289 942.7,288.6 919.7,290.3 884.7,294.1 878.7,294.1 872.7,292.9 861.7,288.5 851.7,282.6 788.4,314 784.7,315.9 784.7,316.5 858.7,309.5 859.7,309.8 861,311 864.2,315 865.4,317 865.4,319 779.7,319 779.7,6 1092.7,6Z"/>
<path fill="#0045f9" fill-rule="evenodd" d="M1092.7,319 1007.7,319 1007.3,315 1005.1,309 1002.1,304 998.7,300 994.1,296 989.4,293 983.7,290.4 977.7,288.6 964.7,286.5 948.7,286.1 921.7,288.1 885.7,291.8 879.7,291.9 873.7,290.9 864.7,287.6 850.7,280.3 848.7,281 789.7,313 784.7,315.8 784.7,316.7 858.7,313.1 859.7,313.2 861.8,316 862.3,317 862.3,319 779.7,319 779.7,6 1092.7,6Z"/>
<path fill="#0053f9" fill-rule="evenodd" d="M1092.7,319 1015.6,319 1014.8,313 1012.6,307 1009.5,302 1004.9,297 999.7,292.8 992.9,289 986.7,286.6 978.7,284.8 966.7,283.5 952.7,283.6 889.7,289.4 880.7,289.8 874.7,289 868.3,287 849.7,278.4 787.7,313.9 784.4,316 783.7,317 779.7,317 779.7,6 1092.7,6Z"/>
<path fill="#0062fa" fill-rule="evenodd" d="M1092.7,319 1024.5,319 1024,313 1022.2,307 1018.9,301 1014.6,296 1008.5,291 1001.6,287 994.1,284 985.7,281.9 973.7,280.7 959.7,280.8 892.7,287.1 880.7,287.7 875.7,287.2 869.7,285.6 855.5,279 848.7,276.9 785.7,315 783.7,316.9 779.7,317 779.7,6 1092.7,6Z"/>
<path fill="#0070fa" fill-rule="evenodd" d="M1092.7,319 1034.7,319 1034.4,311 1032.8,305 1029.5,299 1025.2,294 1019,289 1010.7,284.3 1002.2,281 992.7,278.7 980.7,277.5 965.7,277.7 896.7,284.6 880.7,285.7 871.7,284.3 856.7,277.7 851.7,276.2 847.7,275.6 785.7,314.9 783.7,316.8 779.7,317 779.7,6 1092.7,6Z"/>
<path fill="#007efb" fill-rule="evenodd" d="M1092.7,319 1046,319 1046.5,309 1046,305 1044.7,301 1042.7,297 1040.5,294 1034.1,288 1023.7,282 1011.7,277.5 998.7,274.8 984.7,273.8 966.7,274.7 929.7,279.4 880.7,283.6 875.7,283.2 871.7,282.3 856.7,275.9 850.7,274.7 846.7,274.4 785.7,314.8 783.7,316.7 779.7,316.9 779.7,6 1092.7,6Z"/>
<path fill="#008cfb" fill-rule="evenodd" d="M1092.7,319 1058.3,319 1060,307 1059.8,303 1058.9,299 1057.4,295 1054.9,291 1051.7,287.3 1047.8,284 1043.2,281 1037.1,278 1023.7,273.5 1008.7,270.6 992.7,269.6 973.7,270.7 930.7,277 880.7,281.5 876.7,281.2 872.7,280.4 862.7,275.9 858.7,274.6 852.7,273.6 846.7,273.2 845.7,273.5 789.7,312 783.7,316.6 779.7,316.9 779.7,6 1092.7,6Z"/>
<path fill="#009afc" fill-rule="evenodd" d="M1092.7,319 1071.8,319 1071.9,317 1074,311 1075.3,305 1075.4,300 1074.5,295 1072.6,290 1069.2,285 1065.3,281 1059.7,277 1049,272 1036.7,268.5 1018.7,265.4 1003.7,264.5 991.7,264.9 977.7,266.4 942.1,273 928.7,275 899.7,277.9 881.7,279.2 877.7,279.1 873.7,278.2 864.7,274.3 859.8,273 852.7,272.2 845.7,272.3 783.7,316.5 782.7,316.9 779.7,316.9 779.7,6 1092.7,6Z"/>
<path fill="#00a8fc" fill-rule="evenodd" d="M783.7,316.3 782.7,316.9 779.7,316.9 779.7,6 1092.7,6 1092.7,280.3 1086.9,276 1079.9,272 1070.9,268 1062.7,265.2 1053.7,263 1040.7,260.8 1027.7,259.1 1017.7,258.4 1004.7,258.6 991.7,260 972.7,263.4 935.7,271.5 923.7,273.2 897.7,275.8 878.7,276.6 873.7,275.6 866.7,272.5 862.7,271.5 853.7,270.8 845.7,271.2 843.7,272.1ZM1092.7,319 1090.5,319 1090.5,317 1092.7,314.2Z"/>
<path fill="#00b5fc" fill-rule="evenodd" d="M783.7,316.2 782.7,316.9 779.7,316.9 779.7,6 1092.7,6 1092.7,257.3 1079.7,256.3 1044.7,252.1 1029.7,251.3 1016.7,251.4 1004.7,252.6 990.7,255.1 937.7,268.5 926.7,270.4 911.7,272.2 895.7,273.5 881.7,274.1 876.7,273.5 868.7,270.5 863.7,269.5 853.7,269.4 844.7,270.4Z"/>
<path fill="#00c1fc" fill-rule="evenodd" d="M783.7,316.1 782.7,316.9 779.7,316.9 779.7,162.9 782.7,162.9 784.2,160 786.1,154 786.8,147 785.4,136 782.7,124.4 779.7,124.5 779.7,6 1092.7,6 1092.7,239.8 1084.7,240.9 1076.7,241.5 1034.7,242.4 1013.7,244.5 992.7,249.3 940.7,264.9 929.7,267.2 915.7,269.2 900.7,270.7 883.7,271.4 877.7,270.7 868.5,268 862.7,267.4 851.7,268.3 843.7,269.6Z"/>
<path fill="#00cefc" fill-rule="evenodd" d="M783.7,316 782.7,316.8 779.7,316.8 779.7,182.2 782.7,182.1 786.7,179.4 791.1,175 794.7,169.9 797.7,164 799.8,158 801.3,151 801.6,145 801.1,132 800,121 798.6,112 796.3,103 790.7,86.9 782.7,69.7 779.7,69.7 779.7,6 1092.7,6 1092.7,219.1 1083.7,222 1073.7,224.6 1029.7,233.4 1010.7,237.8 995.7,242.5 946.2,260 930.7,264.1 911.7,267 895.7,268.3 882.7,268.4 869.7,265.9 863.7,265.5 852.7,266.8 843.7,268.6 842.7,269Z"/>
<path fill="#00dafc" fill-rule="evenodd" d="M782.7,316.8 779.7,316.8 779.7,192.8 782.7,192.7 785,192 792.7,187.6 799.7,181.1 804.7,174 809.2,165 812.5,155 813.9,148 815.5,132 816.7,108 816.1,83 814.3,62 809.1,21 808.1,6 1092.7,6 1092.7,195.3 1073.7,202.4 1039.6,218 1004.7,231.6 967,248 946.4,256 937.7,258.9 923.7,262.1 904.7,264.7 885.7,265.6 869.7,263.6 864.7,263.5 858.7,264.2 842.7,267.9Z"/>
<path fill="#00e6fc" fill-rule="evenodd" d="M782.7,316.8 779.7,316.8 779.7,197.3 785.7,196.9 794.7,195.1 798.7,193.3 801.6,191 807.5,185 812,179 816.7,170.6 821,161 824.9,149 835,105 841.7,73 854.7,6 1092.7,6 1092.7,151.4 1086.7,156.5 1067.4,175 1033,203 1016.2,214 974.3,238 960.3,245 942.7,252.6 934.7,255.4 924.7,257.9 908.7,260.7 890.7,262.4 881.7,262.6 868.7,261.5 863.7,261.7 857.7,262.9 841.7,267.1Z"/>
<path fill="#00f2fc" fill-rule="evenodd" d="M782.7,316.8 779.7,316.8 779.7,200.2 796.7,198.6 801.7,197.6 806,196 808.7,194 813.5,189 820.9,179 827.1,168 832.3,157 851.7,107.8 861.7,84.6 900.7,6 1092.7,6 1092.7,92.3 1075.7,104.9 1071.7,108.6 1067.7,113.2 1063.7,119 1060.7,124.3 1051.8,145 1045.6,156 1035.9,169 1020.1,186 1002,203 982.4,220 971.3,229 956,239 938.7,247.9 926.9,252 909.7,255.9 886.7,259.6 868.7,259.5 863.7,260 857.7,261.3 840.7,266.4Z"/>
<path fill="#00f9f6" fill-rule="evenodd" d="M782.7,316.8 779.7,316.8 779.7,202.5 798.7,201.2 807.1,200 812.8,198 817.4,194 824.7,185.3 830.9,176 839.1,162 867.7,110.5 874.7,99.3 881.7,89.6 894.7,74.2 910.7,57.7 921.7,47.5 944.4,28 952.9,20 959.2,13 964,6 1053.7,6 1055.5,17 1056.3,27 1055.9,37 1054.5,46 1051.1,57 1043.3,74 1038.4,87 1027,128 1021.3,142 1014,155 1003.7,170 990.7,186 975.6,202 957.7,218.2 938.7,233.4 932,238 925.7,241.6 907.9,250 891.7,255.3 882.7,257 868.7,257.5 863.7,258.2 844.7,263.8 839.7,265.7Z"/>
<path fill="#00f7e7" fill-rule="evenodd" d="M782.7,316.8 779.7,316.8 779.7,204.5 808.7,202.9 815.7,201.3 820,199 825.9,193 831.6,186 855.7,151.2 879.7,120.7 886.7,113.1 893.7,106.8 900.7,101.6 908.7,96.7 918.7,91.6 929.7,87.4 939.7,84.8 949.7,83.4 958.7,83.5 966.7,84.7 973.7,87.5 979.7,91.7 983.7,95.9 986.7,100.3 989.5,106 991.4,112 992.6,119 992.9,125 992.6,131 991.4,138 987.6,150 981.3,163 968.1,185 962.3,193 955.7,201 943.5,214 929.5,227 917,237 903.7,246 895.7,249.9 887.4,253 880.7,254.4 863.7,256.5 843.7,262.7 838.7,264.9Z"/>
<path fill="#00f6d8" fill-rule="evenodd" d="M782.7,316.7 779.7,316.7 779.7,206.2 812.7,205.3 818.7,204.2 823.7,202 826.2,200 832.9,193 853.7,167.1 866.7,153.3 876.7,144.3 886.7,136.3 894.7,130.7 901.7,127 907.7,124.7 914.7,122.9 920.7,122 927.7,121.9 933.7,122.5 939.7,123.9 944.7,126.1 948.7,129 951.7,132.3 954,136 956.1,141 957.4,146 958.2,152 958.5,158 957.3,170 954.3,180 950,189 942.1,201 932.3,213 921.9,224 911.1,234 902.7,241 894.7,246 884.7,250.5 863.7,254.7 845.7,260.6 838.7,263.4Z"/>
<path fill="#00f5c8" fill-rule="evenodd" d="M782.7,316.7 779.7,316.7 779.7,207.8 793.7,207.3 815.7,207.8 821.7,207 825.7,205.6 829.6,203 834.9,198 855.7,175.6 865.7,166.3 873.7,160.3 880.7,155.7 888.7,151.4 895.7,148.4 905.7,145.5 910.7,144.8 915.7,144.7 919.7,145.3 923.7,146.6 927.7,148.6 930.8,151 936,157 938.2,161 939.7,165 941.1,173 940.5,182 938.2,190 933.7,199 926.8,209 917.7,220 900.8,237 894.7,241.6 887.7,245.7 880.7,248.6 858.7,254.5 844.7,259.3 837.7,262.4Z"/>
<path fill="#0af6bc" fill-rule="evenodd" d="M782.7,316.7 779.7,316.7 779.7,209.2 795.7,208.9 818.7,210.5 825.7,209.7 830.7,207.5 835.5,204 844.4,196 857.7,183 865.7,176.3 873.7,170.8 881.7,166.6 888.7,163.7 894.7,161.8 900.7,160.4 905.7,159.9 909.7,160.2 913.7,161.1 917.7,163 920.7,165.2 924.8,170 927.7,176.9 928.6,184 927.7,191 925.1,199 921,207 915.4,215 906.8,225 895.9,236 890.5,240 883.7,244.1 877.7,246.6 861.7,251.5 846.7,256.7 841.7,258.7 836.7,261.4Z"/>
<path fill="#14f7b0" fill-rule="evenodd" d="M782.7,316.7 779.7,316.7 779.7,210.6 795.7,210.4 804.7,211.2 821.7,213.6 825.7,213.6 828.7,213.1 832.7,211.6 838.1,208 866.7,184.4 873.7,179.9 879.7,176.8 889.7,173.3 898.7,171.8 902.7,172.1 905.7,172.9 908.7,174.2 911.7,176.4 915.3,181 917.4,187 917.8,193 916.6,200 914,207 910.6,213 904.8,221 897.9,229 890.2,236 880.7,242.2 874.3,245 844.7,255.2 839.7,257.7 835.7,260.3Z"/>
<path fill="#2df9a1" fill-rule="evenodd" d="M782.7,316.7 779.7,316.7 779.7,211.9 790.7,211.5 800.7,212.2 810.7,213.9 825.7,217.6 828.7,218 831.7,217.7 834.7,216.7 838.7,214.2 867.7,191.9 873.7,188.2 879.7,185.2 886.7,182.7 892.7,182 898.7,183.1 903.5,186 906.5,190 907.9,194 908.4,199 907.7,204 906.1,209 903.1,215 898.5,222 893.7,228.1 886.7,234.5 878.1,240 871.2,243 844.7,252.6 840.7,254.6 836.7,257.4 833.7,260.1Z"/>
<path fill="#46fb92" fill-rule="evenodd" d="M782.7,316.7 779.7,316.7 779.7,213.1 794.7,213 801.7,213.7 808.7,215.1 818.7,218.4 831.7,225.9 833.7,226.8 835.7,227 836.7,226.5 843.3,219 849.7,213.1 864.7,201.7 874.7,195.5 880.7,192.8 886.7,191.7 891.7,192.5 895.7,195 897.7,197.8 898.8,201 899,205 898.5,209 897.2,213 894.9,218 892,223 888.7,227.2 882.7,232.6 875.7,237.1 866.7,241 843.7,249.4 838.7,252.5 834.7,256.4Z"/>
<path fill="#59fc83" fill-rule="evenodd" d="M851.7,241 846.7,241.2 845.7,240.9 844.9,239 848.2,227 850.3,223 853.7,218.8 865.1,209 872.7,204.3 876.7,202.9 880.7,202.4 884,203 886.7,204.8 887.7,206.1 888.7,208.8 888.7,214 886.8,220 882.5,226 877.7,230.2 871.1,234 861.4,238ZM782.7,316.6 779.7,316.6 779.7,214.3 792.7,214.1 803.7,215.5 810.7,217.3 816.7,219.8 820.7,222.2 825,226 829.1,231 833.3,238 835.3,243 835.9,248 834,253 831.1,258Z"/>
<path fill="#6cfc74" fill-rule="evenodd" d="M782.7,316.6 779.7,316.6 779.7,215.4 790.7,215.2 799.7,216 806.7,217.6 813.7,220.3 818.7,223.3 822.4,227 826.6,233 829.4,239 831.1,246 831.1,252 829.7,256.6ZM867.7,224.1 866.4,224 865.7,223 866.7,220.8 869.7,218.6 871.7,218.2 872.7,218.8 872.9,220 871.7,222 869.7,223.4Z"/>
<path fill="#80fb62" fill-rule="evenodd" d="M782.7,316.6 779.7,316.6 779.7,216.5 789.7,216.3 797.7,216.9 804.7,218.5 810.7,220.6 815.7,223.4 819.8,227 824,233 827,240 828.6,247 828.6,254 827.6,256Z"/>
<path fill="#94fa51" fill-rule="evenodd" d="M782.7,316.6 779.7,316.6 779.7,217.6 788.7,217.3 795.7,217.8 802.7,219.2 809.7,221.7 814.7,224.6 818.4,228 822.4,234 824.9,240 826.6,247 827,253 826.1,255Z"/>
<path fill="#a5fa43" fill-rule="evenodd" d="M782.7,316.6 779.7,316.6 779.7,218.7 788.7,218.4 794.7,218.8 801.7,220.1 807.7,222.2 812.8,225 816.7,228.4 820.5,234 823.1,240 825,247 825.3,253Z"/>
<path fill="#b2fa3b" fill-rule="evenodd" d="M782.7,316.5 779.7,316.5 779.7,219.7 787.7,219.4 793.7,219.7 800.7,221.1 806.4,223 811.7,225.9 815.4,229 818.3,233 821.2,239 823.3,246 824,252Z"/>
<path fill="#c0fa32" fill-rule="evenodd" d="M782.7,316.5 779.7,316.5 779.7,220.7 792.7,220.7 798.7,221.7 804.7,223.6 809.7,226.1 813.7,229.2 816.8,233 819.3,238 821.4,244 822.7,251Z"/>
<path fill="#cdfa2a" fill-rule="evenodd" d="M782.7,316.5 779.7,316.5 779.7,221.6 791.7,221.6 797.7,222.5 803.7,224.4 808.7,226.9 812.8,230 815.7,233.5 818,238 820.1,244 821.4,250Z"/>
<path fill="#dbf926" fill-rule="evenodd" d="M782.7,316.5 779.7,316.5 779.7,222.6 791.7,222.5 797.7,223.5 803.7,225.5 808.4,228 812.1,231 814.7,234.1 817.2,239 819.5,246 820.1,250Z"/>
<path fill="#e9f922" fill-rule="evenodd" d="M782.7,316.5 779.7,316.5 779.7,223.5 790.7,223.4 796.7,224.3 801.7,225.8 806.7,228.2 810.5,231 813.2,234 815.1,237 817.5,243 819,249Z"/>
<path fill="#f7f81e" fill-rule="evenodd" d="M782.7,316.5 779.7,316.5 779.7,224.4 790.7,224.3 796.7,225.3 801.7,226.9 806,229 809.7,231.8 812.6,235 814.4,238 817.8,248Z"/>
<path fill="#fdf01c" fill-rule="evenodd" d="M782.7,316.4 779.7,316.4 779.7,225.3 789.7,225.1 794.7,225.8 799.7,227.2 804.7,229.4 808.4,232 811.3,235 813.3,238 815.4,243 816.7,248Z"/>
<path fill="#fde31c" fill-rule="evenodd" d="M782.7,316.4 779.7,316.4 779.7,226.1 789.7,226 798.7,227.8 802.7,229.5 806.8,232 809.7,234.7 812.1,238 815.6,247Z"/>
<path fill="#fed71c" fill-rule="evenodd" d="M782.7,316.4 779.7,316.4 779.7,226.9 788.7,226.8 793.7,227.4 798.7,228.8 802.7,230.5 806.4,233 809.5,236 811.6,239 813.4,243 814.6,247Z"/>
<path fill="#ffca1c" fill-rule="evenodd" d="M782.7,316.4 779.7,316.4 779.7,227.7 788.7,227.6 797.7,229.4 801.7,231.1 804.9,233 809.8,238 811.7,241.3 813.5,246Z"/>
<path fill="#febd1c" fill-rule="evenodd" d="M782.7,316.4 779.7,316.4 779.7,228.4 787.7,228.3 796.7,229.9 803.7,233.3 806.9,236 809.4,239 811.1,242 812.5,246Z"/>
<path fill="#fdaf1c" fill-rule="evenodd" d="M782.7,316.4 779.7,316.4 779.7,229.1 787.7,229.1 792.7,229.7 796.7,230.8 800.7,232.6 803.7,234.4 806.6,237 808.9,240 811,244 811.4,246Z"/>
<path fill="#fda21c" fill-rule="evenodd" d="M782.7,316.3 779.7,316.3 779.7,229.8 786.7,229.7 794.7,231 801.7,234.1 804.7,236.4 807.1,239 810.5,245Z"/>
<path fill="#fc951c" fill-rule="evenodd" d="M782.7,316.3 779.7,316.3 779.7,230.4 785.7,230.4 793.7,231.6 800.7,234.5 806,239 808.1,242 809.4,245Z"/>
<path fill="#fc871c" fill-rule="evenodd" d="M782.7,316.3 779.7,316.3 779.7,231.1 784.7,231 791.7,231.8 798.7,234.3 803.9,238 806.5,241 808.3,244Z"/>
<path fill="#fc7a1c" fill-rule="evenodd" d="M782.7,316.3 779.7,316.3 779.7,231.7 783.7,231.6 791.7,232.6 798.3,235 803.7,239 807.3,244Z"/>
<path fill="#fc6d1c" fill-rule="evenodd" d="M782.7,316.3 779.7,316.3 779.7,232.3 788.7,232.7 795.7,234.6 799.7,236.8 802.5,239 805.2,242 806.1,244Z"/>
<path fill="#fc5f1c" fill-rule="evenodd" d="M782.7,316.3 779.7,316.3 779.7,243 779.7,232.8 782.7,232.8 789.7,233.5 795.7,235.4 800.7,238.5 804.9,243Z"/>
<path fill="#fb511c" fill-rule="evenodd" d="M782.7,316.2 779.7,316.2 779.7,233.4 786.7,233.7 793.7,235.4 799.7,238.7 803.8,243Z"/>
<path fill="#fb421c" fill-rule="evenodd" d="M782.7,316.2 779.7,316.2 779.7,245 779.7,234 782.7,233.9 788.7,234.6 794.7,236.5 799.7,239.6 802.2,242 802.5,243Z"/>
<path fill="#fa341c" fill-rule="evenodd" d="M782.7,316.2 779.7,316.2 779.7,234.5 785.7,234.7 791.7,236.1 796.7,238.4 801.2,242Z"/>
<path fill="#fa2a1c" fill-rule="evenodd" d="M782.7,316.2 779.7,316.2 779.7,248 779.7,235 782.7,235 787.7,235.6 792.7,237.1 796.7,239.2 800,242Z"/>
<path fill="#fa201d" fill-rule="evenodd" d="M782.7,316.2 779.7,316.2 779.7,235.5 784.7,235.7 790.7,237 795.7,239.3 798.1,241 798.6,242Z"/>
<path fill="#fa151d" fill-rule="evenodd" d="M782.7,316.1 779.7,316.1 779.7,236 784.7,236.2 790.7,237.7 795.7,240.1 797,241 797.1,242Z"/>
<path fill="#fa0b1e" fill-rule="evenodd" d="M782.7,316.1 779.7,316.1 779.7,236.5 783.7,236.6 788.7,237.6 792.7,239.1 795.8,241Z"/>
<path fill="#ef091d" fill-rule="evenodd" d="M782.7,316.1 779.7,316.1 779.7,241 779.7,237 782.7,236.9 789.7,238.5 794.3,241Z"/>
<path fill="#e2071b" fill-rule="evenodd" d="M782.7,316.1 779.7,316.1 779.7,237.5 782.7,237.4 786.7,238.2 791.7,240 792.7,241Z"/>
<path fill="#d50519" fill-rule="evenodd" d="M782.7,316.1 779.7,316.1 779.7,245 779.7,237.9 782.7,237.9 788.7,239.3 790.5,240 791.1,241Z"/>
<path fill="#c80518" fill-rule="evenodd" d="M782.7,316.1 779.7,316.1 779.7,238.4 782.7,238.3 786,239 789.1,240 789.4,241Z"/>
<path fill="#bb0517" fill-rule="evenodd" d="M782.7,316 779.7,316 779.7,241 779.7,238.8 782.7,238.8 787.6,240Z"/>
<path fill="#ad0515" fill-rule="evenodd" d="M782.7,316 779.7,316 779.7,239.3 782.7,239.2 785.8,240Z"/>
<path fill="#a00514" fill-rule="evenodd" d="M782.7,316 779.7,316 779.7,239.8 783.7,240Z"/>
</g>
<g fill="none" stroke="#0f5560" stroke-opacity="0.7" stroke-width="1.1">
<path d="M858.4,302.8 L862.3,302.1 L866.2,301.3 L870.2,300.5 L874.1,299.6 L878.0,298.6 L882.0,297.6 L885.9,296.6 L889.8,295.5 L893.8,294.4 L897.7,293.2 L901.7,291.9 L905.6,290.6 L909.6,289.3 L913.5,287.9 L917.5,286.5 L921.5,285.0 L925.4,283.4 L929.4,281.9 L933.4,280.2 L937.3,278.6 L941.3,276.9 L945.3,275.1 L949.2,273.3 L953.2,271.5 L957.2,269.6 L961.2,267.7 L965.1,265.7 L969.1,263.7 L973.1,261.6 L977.1,259.5 L981.1,257.3 L985.0,255.2 L989.0,252.9 L993.0,250.7 L996.9,248.4 L1000.9,246.0 L1004.8,243.6 L1008.8,241.2 L1012.7,238.8 L1016.6,236.3 L1020.5,233.7 L1024.5,231.2 L1028.4,228.5 L1032.3,225.9 L1036.2,223.2 L1040.1,220.5 L1044.0,217.7 L1047.9,214.9 L1051.8,212.1 L1055.7,209.2 L1059.6,206.4 L1063.5,203.4 L1067.3,200.5 L1071.2,197.5 L1075.1,194.5 L1078.9,191.5 L1082.8,188.4 L1086.6,185.3 L1090.5,182.1"/>
<path d="M854.2,288.5 L858.0,287.0 L861.8,285.4 L865.6,283.7 L869.4,281.9 L873.2,280.1 L877.1,278.2 L880.9,276.2 L884.8,274.2 L888.6,272.0 L892.5,269.8 L896.4,267.5 L900.3,265.1 L904.3,262.7 L908.2,260.2 L912.2,257.6 L916.2,254.9 L920.2,252.2 L924.1,249.4 L928.1,246.6 L932.1,243.7 L936.1,240.7 L940.2,237.7 L944.2,234.6 L948.2,231.4 L952.3,228.2 L956.3,224.9 L960.4,221.6 L964.4,218.2 L968.5,214.7 L972.6,211.2 L976.7,207.6 L980.8,203.9 L984.9,200.2 L989.0,196.4 L993.1,192.6 L997.2,188.7 L1001.2,184.8 L1005.3,180.8 L1009.4,176.8 L1013.5,172.6 L1017.6,168.5 L1021.7,164.2 L1025.8,159.9 L1029.9,155.6 L1034.0,151.2 L1038.0,146.7 L1042.1,142.2 L1046.2,137.7 L1050.3,133.2 L1054.3,128.6 L1058.4,124.0 L1062.4,119.4 L1066.4,114.7 L1070.4,110.0 L1074.5,105.3 L1078.5,100.5 L1082.5,95.7 L1086.5,90.8 L1090.5,85.9"/>
<path d="M847.1,274.7 L850.6,272.4 L854.0,270.1 L857.5,267.6 L861.1,265.1 L864.7,262.5 L868.2,259.8 L871.9,257.1 L875.5,254.2 L879.2,251.3 L882.9,248.3 L886.7,245.3 L890.5,242.1 L894.3,238.9 L898.1,235.6 L902.0,232.2 L905.9,228.8 L909.9,225.3 L913.8,221.7 L917.8,218.1 L921.8,214.4 L925.8,210.6 L929.9,206.8 L934.0,202.9 L938.1,199.0 L942.2,195.0 L946.4,190.9 L950.6,186.7 L954.8,182.5 L959.1,178.2 L963.4,173.9 L967.7,169.5 L972.0,165.0 L976.3,160.5 L980.6,156.0 L984.9,151.4 L989.3,146.7 L993.6,142.0 L997.9,137.3 L1002.3,132.5 L1006.7,127.6 L1011.1,122.7 L1015.5,117.7 L1019.9,112.7 L1024.3,107.6 L1028.7,102.5 L1033.2,97.3 L1037.6,92.2 L1042.0,87.0 L1046.4,81.8 L1050.8,76.5 L1055.3,71.3 L1059.7,66.0 L1064.1,60.7 L1068.5,55.4 L1072.9,50.0 L1077.3,44.6 L1081.7,39.2 L1086.1,33.7 L1090.5,28.2"/>
<path d="M837.1,262.4 L840.1,259.4 L843.0,256.5 L846.1,253.4 L849.2,250.3 L852.4,247.1 L855.6,243.9 L858.9,240.6 L862.2,237.3 L865.6,233.9 L869.1,230.4 L872.6,226.9 L876.2,223.3 L879.8,219.7 L883.5,216.0 L887.2,212.3 L891.0,208.5 L894.9,204.6 L898.8,200.7 L902.7,196.8 L906.7,192.8 L910.8,188.7 L914.9,184.6 L919.0,180.5 L923.2,176.3 L927.5,172.0 L931.8,167.7 L936.1,163.4 L940.5,159.0 L945.0,154.5 L949.5,150.0 L954.1,145.4 L958.6,140.9 L963.2,136.3 L967.8,131.7 L972.5,127.0 L977.1,122.4 L981.8,117.7 L986.5,113.0 L991.3,108.2 L996.1,103.4 L1000.9,98.6 L1005.7,93.8 L1010.6,88.9 L1015.5,84.0 L1020.4,79.1 L1025.4,74.1 L1030.3,69.2 L1035.3,64.2 L1040.2,59.3 L1045.2,54.3 L1050.2,49.3 L1055.2,44.3 L1060.2,39.3 L1065.2,34.3 L1070.2,29.3 L1075.3,24.2 L1080.3,19.2 L1085.4,14.1 L1090.5,9.0"/>
<path d="M824.8,252.4 L827.1,248.9 L829.4,245.5 L831.9,242.0 L834.4,238.4 L837.0,234.8 L839.7,231.3 L842.4,227.6 L845.3,224.0 L848.2,220.3 L851.2,216.6 L854.2,212.8 L857.4,209.0 L860.6,205.2 L863.9,201.4 L867.3,197.5 L870.7,193.6 L874.2,189.6 L877.8,185.7 L881.4,181.7 L885.1,177.7 L888.9,173.7 L892.7,169.6 L896.6,165.5 L900.5,161.4 L904.5,157.3 L908.6,153.1 L912.8,148.9 L917.0,144.7 L921.3,140.4 L925.6,136.1 L930.0,131.8 L934.5,127.5 L939.0,123.2 L943.5,118.9 L948.1,114.6 L952.8,110.2 L957.5,105.9 L962.2,101.6 L967.0,97.2 L971.9,92.8 L976.8,88.4 L981.8,84.0 L986.8,79.6 L991.9,75.2 L997.0,70.8 L1002.2,66.3 L1007.3,61.9 L1012.5,57.5 L1017.7,53.1 L1023.0,48.7 L1028.2,44.2 L1033.5,39.8 L1038.8,35.4 L1044.1,31.0 L1049.5,26.6 L1054.9,22.2 L1060.3,17.8 L1065.8,13.4 L1071.3,9.0"/>
<path d="M811.0,245.3 L812.5,241.5 L814.1,237.7 L815.8,233.9 L817.6,230.1 L819.4,226.3 L821.3,222.4 L823.3,218.6 L825.3,214.7 L827.5,210.9 L829.7,207.0 L832.0,203.1 L834.4,199.2 L836.8,195.2 L839.3,191.3 L841.9,187.3 L844.6,183.3 L847.3,179.3 L850.1,175.4 L852.9,171.4 L855.8,167.4 L858.8,163.4 L861.8,159.3 L864.9,155.3 L868.1,151.3 L871.3,147.2 L874.6,143.2 L877.9,139.1 L881.3,135.1 L884.8,131.0 L888.3,126.9 L891.9,122.8 L895.6,118.7 L899.3,114.6 L903.1,110.5 L906.9,106.4 L910.8,102.3 L914.7,98.3 L918.7,94.2 L922.7,90.1 L926.9,86.0 L931.0,81.9 L935.3,77.8 L939.6,73.7 L943.9,69.6 L948.3,65.5 L952.8,61.5 L957.3,57.4 L961.8,53.3 L966.3,49.2 L970.9,45.2 L975.5,41.1 L980.1,37.1 L984.8,33.1 L989.5,29.1 L994.2,25.0 L999.0,21.0 L1003.8,17.0 L1008.7,13.0 L1013.6,9.0"/>
<path d="M796.7,241.1 L797.4,237.2 L798.2,233.3 L799.0,229.3 L799.9,225.4 L800.9,221.5 L801.9,217.5 L802.9,213.6 L804.0,209.7 L805.1,205.7 L806.3,201.8 L807.6,197.8 L808.9,193.9 L810.2,189.9 L811.6,186.0 L813.0,182.0 L814.5,178.0 L816.1,174.1 L817.6,170.1 L819.3,166.1 L820.9,162.2 L822.6,158.2 L824.4,154.2 L826.2,150.3 L828.0,146.3 L829.9,142.3 L831.8,138.3 L833.8,134.4 L835.8,130.4 L837.9,126.4 L840.0,122.4 L842.2,118.4 L844.3,114.5 L846.6,110.5 L848.8,106.5 L851.1,102.6 L853.5,98.6 L855.9,94.7 L858.3,90.7 L860.7,86.8 L863.2,82.9 L865.8,79.0 L868.3,75.0 L871.0,71.1 L873.6,67.2 L876.3,63.3 L879.0,59.4 L881.8,55.5 L884.6,51.6 L887.4,47.7 L890.3,43.8 L893.1,39.9 L896.1,36.0 L899.0,32.2 L902.0,28.3 L905.0,24.4 L908.0,20.6 L911.1,16.7 L914.2,12.9 L917.4,9.0"/>
<path d="M917.4,316.8 L917.4,315.3 L917.5,313.8 L917.5,312.2 L917.5,310.7 L917.5,309.2 L917.5,307.7 L917.5,306.2 L917.5,304.7 L917.5,303.1 L917.4,301.6 L917.4,300.1 L917.3,298.6 L917.3,297.1 L917.2,295.6 L917.1,294.1 L917.0,292.6 L916.9,291.1 L916.8,289.6 L916.6,288.1 L916.5,286.6 L916.4,285.2 L916.2,283.7 L916.0,282.2 L915.8,280.7 L915.6,279.3 L915.4,277.8 L915.2,276.3 L915.0,274.9 L914.7,273.4 L914.4,272.0 L914.2,270.6 L913.9,269.1 L913.6,267.7 L913.3,266.3 L912.9,264.9 L912.6,263.5 L912.2,262.1 L911.9,260.7 L911.5,259.3 L911.1,257.9 L910.7,256.5 L910.3,255.2 L909.9,253.8 L909.4,252.5 L909.0,251.1 L908.5,249.8 L908.0,248.5 L907.5,247.2 L907.0,245.9 L906.5,244.7 L906.0,243.4 L905.5,242.2 L904.9,240.9 L904.4,239.7 L903.8,238.5 L903.2,237.3 L902.6,236.1 L902.0,235.0 L901.4,233.8 L900.8,232.7 L900.2,231.5 L899.5,230.4 L898.9,229.3 L898.2,228.2 L897.5,227.2 L896.8,226.1 L896.1,225.0 L895.4,224.0 L894.6,223.0 L893.9,222.0 L893.2,221.0 L892.4,220.0 L891.6,219.1 L890.8,218.1 L890.0,217.2 L889.2,216.3 L888.4,215.4 L887.6,214.5 L886.7,213.6 L886.3,213.2 L885.9,212.8 L885.0,211.9 L884.1,211.1 L883.2,210.3 L882.3,209.5 L881.4,208.7 L880.4,207.9 L879.5,207.1 L878.5,206.3 L877.5,205.6 L876.5,204.9 L875.5,204.1 L874.5,203.4 L873.4,202.7 L872.3,202.0 L871.3,201.3 L870.2,200.6 L869.1,200.0 L868.0,199.3 L866.8,198.7 L865.7,198.1 L864.5,197.5 L863.4,196.9 L862.2,196.3 L861.0,195.7 L859.8,195.1 L858.6,194.6 L857.3,194.0 L856.1,193.5 L854.8,193.0 L853.6,192.5 L852.3,192.0 L851.0,191.5 L849.7,191.0 L848.4,190.5 L847.0,190.1 L845.7,189.6 L844.3,189.2 L843.0,188.8 L841.6,188.4 L840.2,188.0 L838.8,187.6 L837.4,187.3 L836.0,186.9 L834.6,186.6 L833.2,186.2 L831.8,185.9 L830.4,185.6 L828.9,185.3 L827.5,185.1 L826.1,184.8 L824.6,184.5 L823.2,184.3 L821.7,184.1 L820.2,183.9 L818.8,183.7 L817.3,183.5 L815.8,183.3 L814.3,183.1 L812.9,183.0 L811.4,182.9 L809.9,182.7 L808.4,182.6 L806.9,182.5 L805.4,182.4 L803.9,182.3 L802.4,182.2 L800.9,182.2 L799.4,182.1 L797.9,182.1 L796.4,182.0 L794.8,182.0 L793.3,182.0 L791.8,182.0 L790.3,182.0 L788.8,182.0 L787.3,182.0 L785.7,182.0 L784.2,182.1 L782.7,182.1"/>
<path d="M975.1,316.8 L975.2,313.8 L975.3,310.8 L975.3,307.9 L975.4,304.9 L975.5,302.0 L975.5,299.1 L975.5,296.2 L975.6,293.3 L975.6,290.5 L975.6,287.6 L975.6,284.8 L975.6,282.0 L975.5,279.2 L975.5,276.4 L975.5,273.7 L975.4,271.0 L975.3,268.2 L975.3,265.5 L975.2,262.9 L975.1,260.2 L975.0,257.6 L974.8,255.0 L974.7,252.4 L974.6,249.8 L974.4,247.3 L974.2,244.8 L974.0,242.3 L973.9,239.8 L973.6,237.4 L973.4,235.0 L973.2,232.6 L972.9,230.3 L972.7,227.9 L972.4,225.6 L972.1,223.4 L971.8,221.1 L971.5,218.9 L971.2,216.7 L970.8,214.5 L970.5,212.4 L970.1,210.3 L969.8,208.2 L969.4,206.1 L969.0,204.1 L968.6,202.1 L968.1,200.1 L967.7,198.2 L967.3,196.3 L966.8,194.4 L966.3,192.5 L965.9,190.7 L965.4,188.9 L964.9,187.1 L964.3,185.4 L963.8,183.6 L963.3,181.9 L962.7,180.3 L962.2,178.6 L961.6,177.0 L961.0,175.5 L960.4,173.9 L959.8,172.4 L959.2,170.9 L958.5,169.5 L957.9,168.1 L957.2,166.8 L956.6,165.5 L955.9,164.2 L955.2,162.9 L954.5,161.7 L953.8,160.6 L953.1,159.5 L952.3,158.4 L951.6,157.3 L950.8,156.3 L950.0,155.3 L949.3,154.4 L948.5,153.5 L947.7,152.7 L947.3,152.2 L946.8,151.8 L946.0,151.0 L945.1,150.2 L944.2,149.5 L943.2,148.7 L942.2,147.9 L941.1,147.2 L940.0,146.4 L938.9,145.7 L937.8,145.0 L936.6,144.3 L935.3,143.6 L934.0,142.9 L932.7,142.3 L931.4,141.6 L930.0,141.0 L928.6,140.3 L927.1,139.7 L925.6,139.1 L924.0,138.5 L922.5,137.9 L920.9,137.3 L919.2,136.8 L917.6,136.2 L915.9,135.7 L914.1,135.2 L912.4,134.6 L910.6,134.1 L908.8,133.6 L907.0,133.2 L905.1,132.7 L903.2,132.2 L901.3,131.8 L899.4,131.4 L897.4,130.9 L895.4,130.5 L893.4,130.1 L891.3,129.7 L889.2,129.4 L887.1,129.0 L885.0,128.7 L882.8,128.3 L880.6,128.0 L878.4,127.7 L876.1,127.4 L873.9,127.1 L871.6,126.8 L869.2,126.6 L866.9,126.3 L864.5,126.1 L862.1,125.9 L859.7,125.6 L857.2,125.5 L854.7,125.3 L852.2,125.1 L849.7,124.9 L847.1,124.8 L844.5,124.7 L841.9,124.5 L839.3,124.4 L836.6,124.3 L834.0,124.2 L831.3,124.2 L828.5,124.1 L825.8,124.0 L823.1,124.0 L820.3,124.0 L817.5,123.9 L814.7,123.9 L811.9,123.9 L809.0,123.9 L806.2,123.9 L803.3,124.0 L800.4,124.0 L797.5,124.0 L794.6,124.1 L791.6,124.2 L788.7,124.2 L785.7,124.3 L782.7,124.4"/>
<path d="M1032.8,316.8 L1032.9,311.7 L1033.0,306.7 L1033.0,301.7 L1033.1,296.8 L1033.2,292.0 L1033.2,287.1 L1033.3,282.3 L1033.3,277.6 L1033.4,272.9 L1033.4,268.3 L1033.4,263.7 L1033.4,259.2 L1033.4,254.7 L1033.4,250.3 L1033.4,245.9 L1033.4,241.6 L1033.4,237.3 L1033.4,233.0 L1033.3,228.8 L1033.3,224.7 L1033.2,220.6 L1033.2,216.6 L1033.1,212.6 L1033.0,208.7 L1033.0,204.8 L1032.9,201.0 L1032.8,197.3 L1032.7,193.6 L1032.6,189.9 L1032.4,186.4 L1032.3,182.8 L1032.2,179.4 L1032.0,176.0 L1031.9,172.6 L1031.7,169.3 L1031.6,166.1 L1031.4,162.9 L1031.2,159.8 L1031.0,156.7 L1030.8,153.7 L1030.6,150.8 L1030.4,147.9 L1030.2,145.0 L1030.0,142.3 L1029.7,139.6 L1029.5,136.9 L1029.2,134.3 L1029.0,131.7 L1028.7,129.2 L1028.5,126.8 L1028.2,124.4 L1027.9,122.1 L1027.6,119.9 L1027.3,117.7 L1027.0,115.5 L1026.6,113.4 L1026.3,111.4 L1026.0,109.4 L1025.6,107.5 L1025.3,105.6 L1024.9,103.9 L1024.6,102.1 L1024.2,100.5 L1023.8,98.9 L1023.4,97.4 L1023.0,95.9 L1022.6,94.5 L1022.2,93.2 L1021.7,91.9 L1021.3,90.7 L1020.9,89.6 L1020.4,88.6 L1019.9,87.6 L1019.5,86.6 L1019.0,85.8 L1018.5,85.0 L1018.0,84.3 L1017.5,83.6 L1017.0,83.0 L1016.7,82.8 L1016.5,82.5 L1015.9,82.0 L1015.2,81.5 L1014.5,81.0 L1013.7,80.5 L1012.9,80.0 L1011.9,79.6 L1010.9,79.1 L1009.9,78.6 L1008.8,78.2 L1007.6,77.8 L1006.3,77.3 L1005.0,76.9 L1003.6,76.5 L1002.1,76.1 L1000.6,75.7 L999.0,75.3 L997.4,74.9 L995.6,74.6 L993.9,74.2 L992.0,73.9 L990.1,73.5 L988.1,73.2 L986.1,72.9 L984.0,72.5 L981.8,72.2 L979.6,71.9 L977.4,71.6 L975.1,71.3 L972.7,71.0 L970.3,70.8 L967.8,70.5 L965.2,70.3 L962.6,70.0 L959.9,69.8 L957.2,69.5 L954.5,69.3 L951.6,69.1 L948.7,68.9 L945.8,68.7 L942.8,68.5 L939.7,68.3 L936.6,68.1 L933.4,67.9 L930.2,67.8 L926.9,67.6 L923.5,67.5 L920.1,67.3 L916.7,67.2 L913.1,67.1 L909.6,66.9 L905.9,66.8 L902.2,66.7 L898.5,66.6 L894.7,66.5 L890.8,66.5 L886.9,66.4 L882.9,66.3 L878.9,66.3 L874.8,66.2 L870.7,66.2 L866.5,66.1 L862.2,66.1 L857.9,66.1 L853.6,66.1 L849.2,66.1 L844.8,66.1 L840.3,66.1 L835.8,66.1 L831.2,66.1 L826.6,66.1 L821.9,66.2 L817.2,66.2 L812.4,66.3 L807.5,66.3 L802.7,66.4 L797.8,66.5 L792.8,66.5 L787.8,66.6 L782.7,66.7"/>
<path d="M782.7,239.9 L782.7,9.0 L1090.5,9.0 L1090.5,316.8 L859.7,316.8 A77.0,77.0 0 0 0 782.7,239.9 Z" stroke="#0a4a5a" stroke-opacity="1" stroke-width="1.2"/>
</g></g>
<text x="872.8" y="345.4" font-size="23.9" fill="#000"><tspan fill="#d81e2c">FEM</tspan> based</text>
<text x="819" y="372.6" font-size="23.9" fill="#000">isogeometric analysis</text>
<clipPath id="cp2"><path d="M783.0,653.5 L783.0,423.4 L1089.8,423.4 L1089.8,730.2 L859.7,730.2 A76.7,76.7 0 0 0 783.0,653.5 Z"/></clipPath>
<g clip-path="url(#cp2)">
<rect x="782.0" y="422.4" width="308.8" height="308.8" fill="#00068a"/>
<path fill="#000692" fill-rule="evenodd" d="M1092,732.4 780,732.4 780,420.4 1092,420.4Z"/>
<path fill="#00089c" fill-rule="evenodd" d="M1092,732.4 780,732.4 780,420.4 1092,420.4Z"/>
<path fill="#0008a6" fill-rule="evenodd" d="M1092,732.4 780,732.4 780,420.4 1092,420.4Z"/>
<path fill="#0008b1" fill-rule="evenodd" d="M1092,732.4 780,732.4 780,420.4 1092,420.4Z"/>
<path fill="#0008bd" fill-rule="evenodd" d="M1092,732.4 780,732.4 780,420.4 1092,420.4Z"/>
<path fill="#0008c8" fill-rule="evenodd" d="M1092,732.4 780,732.4 780,420.4 1092,420.4Z"/>
<path fill="#0008d8" fill-rule="evenodd" d="M1092,732.4 936.4,732.4 936.4,730.4 930,727.4 920,724.5 913,723.7 909,724 897,726.4 887,726.5 885,727.6 883.3,729.4 882.8,730.4 882.8,732.4 780,732.4 780,420.4 1092,420.4Z"/>
<path fill="#0008e7" fill-rule="evenodd" d="M1092,732.4 946.2,732.4 946.2,730.4 941,726.4 934,722.8 925,719.4 913,716.8 891,714.8 887,715 885,715.7 883,717 881,719 877.7,725.4 876.2,730.4 876.2,732.4 780,732.4 780,420.4 1092,420.4Z"/>
<path fill="#0009f5" fill-rule="evenodd" d="M1092,732.4 952.9,732.4 952.9,730.4 948,725.6 942,721.6 935,718.2 923,714.2 907,710.9 896,707.3 891,706.7 887,707.2 883.2,708.4 879.7,710.4 877.9,712.4 876,715.6 874.3,720.4 872.4,729.4 872.2,732.4 780,732.4 780,420.4 1092,420.4Z"/>
<path fill="#0014f6" fill-rule="evenodd" d="M1092,732.4 958.5,732.4 958.5,730.4 957.9,729.4 953,724.2 947,719.7 940,716 926.8,711.4 910,707.6 899,704 893,703.3 888,703.7 881.5,705.4 876.6,707.4 872.7,710.4 871.7,712.4 870.6,717.4 869.3,732.4 780,732.4 780,420.4 1092,420.4Z"/>
<path fill="#001ef7" fill-rule="evenodd" d="M1092,732.4 964.5,732.4 964.5,730.4 963.8,729.4 956.1,721.4 950.9,717.4 943.6,713.4 937,710.8 929,708.5 912,704.9 901,701.7 894,700.9 888,701.5 879.8,703.4 871.4,706.4 868.7,708.4 867.6,710.4 867,713.4 866.9,732.4 780,732.4 780,420.4 1092,420.4Z"/>
<path fill="#0028f8" fill-rule="evenodd" d="M1092,732.4 971.1,732.4 971.1,730.4 970.4,729.4 961.4,720.4 953.6,714.4 946,710.4 939,707.8 931,705.7 914,702.6 901,699.5 895,699 886,700 869,703.9 866,705.1 864.4,706.4 863.6,708.4 863.4,712.4 864.8,732.4 780,732.4 780,420.4 1092,420.4Z"/>
<path fill="#0036f8" fill-rule="evenodd" d="M1092,732.4 978.7,732.4 978.7,730.4 978,729.4 967.4,719.4 957.8,712.4 949,707.7 942,705.2 933,703 914,700.1 902,697.7 897,697.3 890,697.7 874,700.8 867,701.4 861,701 853,698.4 797.9,723.4 791.5,726.4 791,727 789.3,727.4 790,727.8 791,727.6 792,727 856,706 858.3,707.4 859.7,710.4 861,720.4 862.8,729.4 862.9,732.4 780,732.4 780,420.4 1092,420.4ZM788.5,728.4 787,728.4 788,728.7ZM785.4,729.4 785,729.6Z"/>
<path fill="#0045f9" fill-rule="evenodd" d="M1092,732.4 988,732.4 988,730.4 987.1,729.4 973,717.4 962.7,710.4 952,705 944,702.3 935,700.3 898,695.7 890,696.3 877,698.7 871,699.3 866,698.9 854,696.3 851,696.2 787,728.3 786,729.3 784.9,729.4 785,730 786,729.6 792.8,729.4 859,724 860,725.7 861.1,729.4 861.2,732.4 780,732.4 780,420.4 1092,420.4Z"/>
<path fill="#0053f9" fill-rule="evenodd" d="M1092,732.4 1000.1,732.4 1000.1,730.4 999.1,729.4 979.8,715.4 966.6,707.4 955,702.1 947,699.6 937,697.7 899,694.2 892,694.7 878,697.1 872,697.6 868,697.3 855,694.6 851,694 850,694.3 790.1,726.4 785,729.2 784,730.4 780,730.4 780,420.4 1092,420.4Z"/>
<path fill="#0062fa" fill-rule="evenodd" d="M1092,732.4 1013.1,732.4 1013.1,730.4 1010,727.4 1003,722 995,716.9 979.5,708.4 970,703.7 960,699.7 951,697 943,695.5 935,694.6 901,692.8 893,693.3 878,695.7 872,696 858.5,693.4 850,692.3 788,727.4 785,729.2 784,730.3 780,730.4 780,420.4 1092,420.4Z"/>
<path fill="#0070fa" fill-rule="evenodd" d="M1092,732.4 1026.4,732.4 1026.4,730.4 1025.7,729.4 1019.3,723.4 1011.3,717.4 1002,711.9 994,708.1 972.6,699.4 962,696 950.9,693.4 936,691.9 901,691.3 894,691.9 879,694.2 873,694.4 869,694 858,691.7 849,690.7 786,728.4 784,730.2 780,730.4 780,420.4 1092,420.4Z"/>
<path fill="#007efb" fill-rule="evenodd" d="M1092,732.4 1040.3,732.4 1040.3,730.4 1039,728.7 1033,722.4 1027.3,717.4 1017,710.4 1005,704.5 993,700.1 965.8,692.4 952,690 938,689.2 901,690 875,692.9 870,692.5 857,690 848,689.3 786,728.3 784,730.1 780,730.3 780,420.4 1092,420.4Z"/>
<path fill="#008cfb" fill-rule="evenodd" d="M1092,732.4 1055.4,732.4 1055.4,730.4 1052.6,726.4 1047.3,720.4 1042.1,715.4 1031,707.1 1019,700.9 1006.5,696.4 992,692.8 965,687.6 956,686.6 948,686.3 901,688.6 877,691.3 870,690.9 856,688.4 847,688 786,728.2 784,730 780,730.3 780,420.4 1092,420.4Z"/>
<path fill="#009afc" fill-rule="evenodd" d="M1092,732.4 1072.3,732.4 1072,729.4 1068.1,722.4 1063.4,716.4 1058,710.9 1052,706 1045,701.3 1037.8,697.4 1030,694.1 1017.9,690.4 1003,687.4 973,683.6 958,682.7 941,683.5 900,687.2 878,689.7 871,689.4 856,686.9 846,686.8 784,729.8 783,730.3 780,730.3 780,420.4 1092,420.4Z"/>
<path fill="#00a8fc" fill-rule="evenodd" d="M784,729.7 783,730.3 780,730.3 780,420.4 1092,420.4 1092,714.9 1088.1,710.4 1082.8,705.4 1071,696.8 1057,689.5 1043,684.4 1031,681.8 1016,680.3 980,678.2 963,678.1 952,679.1 919,683.7 880,687.9 872,687.8 856,685.4 846,685.5 845,685.8Z"/>
<path fill="#00b5fc" fill-rule="evenodd" d="M784,729.6 783,730.3 780,730.3 780,420.4 1092,420.4 1092,675.9 1056,669.5 1046,668.6 1036,668.5 1013,670.3 981,671.5 969,672.5 957,674.3 938.5,678.4 925,680.8 883,686 874,686.2 855,683.9 845,684.4Z"/>
<path fill="#00c1fc" fill-rule="evenodd" d="M784,729.5 783,730.3 780,730.3 780,563.1 783,563.1 783.8,560.4 784,557.4 783,538.5 780,538.5 780,420.4 1092,420.4 1092,650.3 1057,651.5 1041,653.3 1010,660 972,665.9 960,669 939.4,675.4 929,677.8 891,683.3 877,684.3 855,682.4 849,682.6 844,683.3Z"/>
<path fill="#00cefc" fill-rule="evenodd" d="M784,729.4 783,730.2 780,730.2 780,596 783,596 784.5,597.4 787.4,601.4 789,606.4 791,608.1 794,609.2 797,609.5 799,609.4 801,608.4 801.3,607.4 798.9,600.4 798.8,596.4 800.1,591.4 804,583.4 806,577.4 807.4,570.4 807.8,563.4 803.2,514.4 800.7,497.4 796.5,480.4 789,458.5 783,445.1 780,445.1 780,420.4 1092,420.4 1092,626.7 1046,637.3 1006.7,649.4 976,657.6 963,662.3 941.6,671.4 927.9,675.4 917,677.4 886,681.8 872,682.2 854,681 849,681.3 843,682.4Z"/>
<path fill="#00dafc" fill-rule="evenodd" d="M783,730.2 780,730.2 780,610.4 783,610.3 787,612.3 791,613.4 799,614.4 806,613.8 809,612.7 810.6,611.4 811.5,609.4 811.7,601.4 812.6,595.4 819,577.6 821.4,565.4 823.1,513.4 822.6,492.4 819.7,469.4 812.5,434.4 810.8,420.4 1092,420.4 1092,602.2 1006,638 972,651 960,656.9 941.4,667.4 931.3,671.4 918.7,674.4 890,679 872,680.1 853,679.5 848,680.1 842.2,681.4Z"/>
<path fill="#00e6fc" fill-rule="evenodd" d="M783,730.2 780,730.2 780,614.4 783,614.4 793,616.5 803,617.2 810,616.6 814.9,614.4 817.1,611.4 820.5,597.4 829.5,576.4 832.6,564.4 841.5,514.4 844.2,495.4 845.8,474.4 845.7,437.4 847,420.4 1092,420.4 1092,575.4 1076,584.6 1035.5,609.4 1016.3,620.4 997.5,630.4 965,645.9 955,652.2 939.4,663.4 932,667.2 919,671.1 894,675.7 871,678 852,678.2 846,679.1 841.4,680.4Z"/>
<path fill="#00f2fc" fill-rule="evenodd" d="M783,730.2 780,730.2 780,617.3 783,617.2 800,619.3 810.4,619.4 814,618.8 817,617.6 819.9,615.4 821.3,613.4 826.2,600.4 835.2,583.4 840.1,572.4 867.2,492.4 870.2,482.4 872.5,472.4 875.9,449.4 877.9,439.4 880.7,429.4 884,420.4 1092,420.4 1092,541 1082,547.7 1071,556.4 1031.9,592.4 1014.7,606.4 1002.2,615.4 992.9,621.4 966,636 957,641.5 948.9,647.4 937,658.1 932.3,661.4 926.1,664.4 920.4,666.4 895,672.2 871,675.8 851,676.8 841,679.2Z"/>
<path fill="#00f9f6" fill-rule="evenodd" d="M783,730.2 780,730.2 780,619.6 806,621.6 813,621.6 819,620.3 821.9,618.4 824,616.2 831.2,602.4 846.5,577.4 861,547.9 873,525.2 894.4,490.4 899.6,478.4 904.8,458.4 909,447.2 914.5,437.4 927,420.4 1050.7,420.4 1050.5,430.4 1051.3,440.4 1056.5,472.4 1057.7,483.4 1057.7,494.4 1056,505.4 1053.2,514.4 1049.4,523.4 1031.5,557.4 1020.8,575.4 1010.1,589.4 997.7,602.4 987.3,611.4 976.1,619.4 952,634.8 942,642.4 929,653.7 921,658.9 908,664.5 893,669 869,673.7 849,675.5 844,676.7 839.6,678.4Z"/>
<path fill="#00f7e7" fill-rule="evenodd" d="M783,730.2 780,730.2 780,621.6 792,622 814,623.9 819,623.4 823.3,621.4 827.2,617.4 835,605.2 852.7,581.4 870,556.1 884,538.3 891,530.6 899,523 920.6,506.4 929.7,498.4 935.1,492.4 941.1,483.4 946,477.7 950,474.6 954,472.4 958,471.1 963,470.5 968,470.9 972,471.9 976,473.7 980,476.4 985,481 989,485.9 992.9,492.4 995.9,499.4 998.5,507.4 1000.6,516.4 1002,526.4 1002.7,536.4 1002.7,545.4 1002,552.4 1000.7,559.4 998.8,566.4 996.1,573.4 992.2,581.4 987.4,589.4 983.1,595.4 975.1,604.4 966.3,612.4 943,630.9 921.2,649.4 906.9,659.4 898.4,663.4 889,666.4 867,671.6 848,674 844,675.1 839,677.2Z"/>
<path fill="#00f6d8" fill-rule="evenodd" d="M783,730.1 780,730.1 780,623.4 795,623.7 817,626.2 821,625.9 824.6,624.4 828,621.3 840,606.2 870,573.2 878,565 886,557.7 894,551.5 901,546.9 909,542.7 916,539.9 924,537.6 933,535.9 940,535.3 946,535.7 951,536.9 956,539.2 960.2,542.4 963,545.5 965.5,549.4 968.4,557.4 969.5,566.4 968.6,577.4 966.3,586.4 962.2,595.4 956.1,604.4 947.3,614.4 936.3,625.4 914.1,646.4 905,654.4 900,657.8 894,660.7 886.4,663.4 865,669.5 847,672.3 842,674.1 838,676.3Z"/>
<path fill="#00f5c8" fill-rule="evenodd" d="M783,730.1 780,730.1 780,625.1 796,625.1 805,626.2 819,628.8 824,628.7 826,627.7 828,626.1 835,617.7 841,611.7 874,582.7 885,574.2 895,568.1 902,564.8 908,562.7 914,561.3 919,560.9 924,561.3 929,562.7 934,565.2 938,568.4 940.5,571.4 942.8,575.4 944.3,579.4 945.2,583.4 945.1,591.4 944.3,595.4 942.7,600.4 938.5,608.4 932.1,617.4 924.4,626.4 906.6,645.4 898.1,653.4 889,658.4 863,667.4 846,670.4 839,673.8 836,676.3Z"/>
<path fill="#0af6bc" fill-rule="evenodd" d="M783,730.1 780,730.1 780,626.5 790,626.1 799,626.6 809,628.4 818,631.1 823.5,633.4 826.7,635.4 828.3,637.4 830.1,641.4 832,644.5 835,647.1 836,647.4 837,647.1 837.4,645.4 836,642.4 829.7,636.4 828.7,634.4 830.4,630.4 834.9,623.4 838,619.9 843,615.8 878,591 887,585.5 896,581.3 904,578.8 911,578.5 917,579.9 922.4,583.4 926.1,588.4 927.9,594.4 927.8,601.4 926,608.4 922.8,615.4 917.6,623.4 911.4,631.4 898.6,646.4 892.8,651.4 885,655.6 862.6,664.4 846,667.6 840,670.9 835,675.4Z"/>
<path fill="#14f7b0" fill-rule="evenodd" d="M783,730.1 780,730.1 780,627.8 791,627.3 799,627.8 808,629.6 815.8,632.4 819.3,634.4 821.5,636.4 829,647.3 833,651.7 837,654.7 840,655.4 842,654.4 843.6,652.4 844.3,650.4 844.2,647.4 843,644.4 837.4,636.4 836.3,633.4 836.2,631.4 838,626.4 841.3,622.4 874,603.1 889,595.6 895,594 900,593.7 905,594.8 909,597.4 911.7,601.4 912.8,605.4 912.8,610.4 911.8,615.4 909.4,621.4 906.2,627.4 900.8,635.4 894.6,643.4 888.9,648.4 881,652.7 861,660.9 857,661.8 847,662.9 843,664.9 839,668.8Z"/>
<path fill="#2df9a1" fill-rule="evenodd" d="M860,655.5 857,655.8 854.6,655.4 852.7,654.4 851,652.5 842.4,635.4 841.9,631.4 843.5,627.4 847,624.3 860,618.8 880,609.5 885,608.2 889,607.9 892,608.3 895,609.7 897,611.7 898.3,614.4 898.8,617.4 898.5,621.4 897.5,625.4 895.5,630.4 890.4,639.4 886,643.7 880.3,647.4 866.4,653.4ZM783,730.1 780,730.1 780,628.9 792,628.5 802,629.5 811.7,632.4 815.6,634.4 818.2,636.4 820.1,638.4 828,649.8 837.3,660.4 838.1,662.4 838,664.4 836.4,668.4 833.1,673.4Z"/>
<path fill="#46fb92" fill-rule="evenodd" d="M865,646.5 862,647.2 859,647.3 856,646.3 854,644.7 851,640.4 849.2,636.4 848.9,633.4 850,630.7 853,628.6 860,626.8 873,622.5 878,622.2 881.4,623.4 883.2,625.4 884.2,628.4 883.7,632.4 882,635.8 879.8,638.4 875.9,641.4ZM783,730 780,730 780,630 791,629.5 799,630.2 805,631.5 810,633.3 814,635.4 817.6,638.4 832.9,659.4 834.7,663.4 834.7,666.4 833.8,669.4 832.2,672.4Z"/>
<path fill="#59fc83" fill-rule="evenodd" d="M783,730 780,730 780,631 790,630.5 797,631 803,632.2 808,634 812.6,636.4 816,639.2 830.5,659.4 832.2,663.4 832.5,667.4 831.2,671.4Z"/>
<path fill="#6cfc74" fill-rule="evenodd" d="M783,730 780,730 780,631.9 789,631.5 796,632 802,633.2 807,635 811.4,637.4 815,640.5 828.6,659.4 830.6,664.4 830.8,668.4 830.2,670.4Z"/>
<path fill="#80fb62" fill-rule="evenodd" d="M783,730 780,730 780,632.8 794,632.8 800,633.9 805,635.5 810,638.2 813.9,641.4 826.4,658.4 828.8,663.4 829.4,668.4 829,669.6Z"/>
<path fill="#94fa51" fill-rule="evenodd" d="M783,730 780,730 780,633.6 792,633.6 798,634.5 803,636 807.9,638.4 812,641.5 816,646.1 824.9,658.4 827.4,663.4 828.2,667.4 828,668.6Z"/>
<path fill="#a5fa43" fill-rule="evenodd" d="M783,730 780,730 780,634.4 791,634.4 797,635.3 802,636.9 807,639.3 811,642.4 815.4,647.4 823.5,658.4 826.1,663.4 827,667.4Z"/>
<path fill="#b2fa3b" fill-rule="evenodd" d="M783,729.9 780,729.9 780,635.1 789,635.1 795,635.9 800.3,637.4 805,639.6 809,642.4 814,647.5 821,656.6 824.5,662.4 825.7,666.4Z"/>
<path fill="#c0fa32" fill-rule="evenodd" d="M783,729.9 780,729.9 780,635.8 787,635.8 793,636.5 798,637.7 803,639.8 807.1,642.4 812.4,647.4 818.9,655.4 822.3,660.4 824.5,665.4Z"/>
<path fill="#cdfa2a" fill-rule="evenodd" d="M783,729.9 780,729.9 780,636.5 784,636.5 790,636.9 796,638.1 801,640 805.1,642.4 810,646.5 815,652.1 820.5,659.4 823.1,664.4 823,665.4Z"/>
<path fill="#dbf926" fill-rule="evenodd" d="M783,729.9 780,729.9 780,657.4 780,637.2 783,637.2 789,637.6 795,638.8 800,640.7 804.6,643.4 810,648 815,653.6 820,660.4 821.9,664.4Z"/>
<path fill="#e9f922" fill-rule="evenodd" d="M783,729.9 780,729.9 780,637.9 786,638 792,638.9 797,640.5 802,643 807,646.6 812,651.6 817.6,658.4 820.5,663.4Z"/>
<path fill="#f7f81e" fill-rule="evenodd" d="M783,729.8 780,729.8 780,638.5 785,638.6 791,639.5 796,641 801,643.5 805.2,646.4 810,650.8 815.7,657.4 819.2,662.4Z"/>
<path fill="#fdf01c" fill-rule="evenodd" d="M783,729.8 780,729.8 780,639.1 785,639.2 791,640.3 796,642 801,644.6 806,648.3 811,653.2 816.2,659.4 817.6,661.4 817.7,662.4Z"/>
<path fill="#fde31c" fill-rule="evenodd" d="M783,729.8 780,729.8 780,639.7 784,639.8 790,640.8 795,642.5 800,645.1 804.7,648.4 809,652.4 814,657.9 816.3,661.4Z"/>
<path fill="#fed71c" fill-rule="evenodd" d="M783,729.8 780,729.8 780,640.3 783,640.3 789,641.3 794,643 798,644.9 802,647.5 806.7,651.4 814.9,660.4Z"/>
<path fill="#ffca1c" fill-rule="evenodd" d="M783,729.8 780,729.8 780,641 783,640.9 789,642.1 794,643.8 798,645.9 802,648.5 807,652.8 813.1,659.4 813.2,660.4Z"/>
<path fill="#febd1c" fill-rule="evenodd" d="M783,729.8 780,729.8 780,641.6 783,641.5 788,642.5 793,644.2 797,646.2 805,652.1 811.9,659.4Z"/>
<path fill="#fdaf1c" fill-rule="evenodd" d="M783,729.7 780,729.7 780,642.2 783,642.1 787,642.9 795.7,646.4 803,651.4 810.3,658.4Z"/>
<path fill="#fda21c" fill-rule="evenodd" d="M783,729.7 780,729.7 780,642.8 783,642.7 787,643.6 795,646.9 803,652.4 808.3,657.4 808.7,658.4Z"/>
<path fill="#fc951c" fill-rule="evenodd" d="M783,729.7 780,729.7 780,643.4 783,643.3 786,644 794,647.2 801,651.7 807.2,657.4Z"/>
<path fill="#fc871c" fill-rule="evenodd" d="M783,729.7 780,729.7 780,644 783,643.9 785,644.4 793,647.5 800.6,652.4 805.2,656.4 805.7,657.4Z"/>
<path fill="#fc7a1c" fill-rule="evenodd" d="M783,729.7 780,729.7 780,644.6 784,644.8 792,647.7 798,651.3 804.2,656.4Z"/>
<path fill="#fc6d1c" fill-rule="evenodd" d="M783,729.7 780,729.7 780,645.2 783,645.1 791,648 798,652.2 802.8,656.4Z"/>
<path fill="#fc5f1c" fill-rule="evenodd" d="M783,729.6 780,729.6 780,645.8 783,645.7 791,648.7 798.5,653.4 801,655.4 801.2,656.4Z"/>
<path fill="#fb511c" fill-rule="evenodd" d="M783,729.6 780,729.6 780,646.4 783,646.3 789,648.5 794.4,651.4 799.9,655.4Z"/>
<path fill="#fb421c" fill-rule="evenodd" d="M783,729.6 780,729.6 780,646.9 783,646.9 789,649.2 795,652.6 798.4,655.4Z"/>
<path fill="#fa341c" fill-rule="evenodd" d="M783,729.6 780,729.6 780,647.5 783,647.5 788,649.4 795,653.4 796.5,654.4 796.9,655.4Z"/>
<path fill="#fa2a1c" fill-rule="evenodd" d="M783,729.6 780,729.6 780,648.1 783,648.1 788,650.1 795.4,654.4 795.5,655.4Z"/>
<path fill="#fa201d" fill-rule="evenodd" d="M783,729.5 780,729.5 780,648.7 783,648.7 785,649.4 790,651.8 794.2,654.4Z"/>
<path fill="#fa151d" fill-rule="evenodd" d="M783,729.5 780,729.5 780,649.3 783,649.3 785,650 790,652.4 792.7,654.4Z"/>
<path fill="#fa0b1e" fill-rule="evenodd" d="M783,729.5 780,729.5 780,649.9 784,650.2 790,653.1 791.3,654.4Z"/>
<path fill="#ef091d" fill-rule="evenodd" d="M783,729.5 780,729.5 780,650.5 783,650.4 789.3,653.4 790,654.4Z"/>
<path fill="#e2071b" fill-rule="evenodd" d="M783,729.5 780,729.5 780,651.1 783,651 788.1,653.4 788.6,654.4Z"/>
<path fill="#d50519" fill-rule="evenodd" d="M783,729.5 780,729.5 780,651.7 783,651.6 786.9,653.4 787.3,654.4Z"/>
<path fill="#c80518" fill-rule="evenodd" d="M783,729.4 780,729.4 780,652.2 783,652.2 785.6,653.4 785.9,654.4Z"/>
<path fill="#bb0517" fill-rule="evenodd" d="M783,729.4 780,729.4 780,652.8 783,652.8 784.4,653.4 784.6,654.4Z"/>
<path fill="#ad0515" fill-rule="evenodd" d="M783,729.4 780,729.4 780,653.5 781,653.4 783,653.4 783.3,654.4Z"/>
</g>
<g fill="none" stroke="#111" stroke-width="1.2">
<path d="M776.0,653.5h14M783.0,646.5v14"/>
<path d="M776.0,596.0h14M783.0,589.0v14"/>
<path d="M776.0,538.5h14M783.0,531.5v14"/>
<path d="M776.0,480.9h14M783.0,473.9v14"/>
<path d="M776.0,423.4h14M783.0,416.4v14"/>
<path d="M776.0,423.4h14M783.0,416.4v14"/>
<path d="M852.7,423.4h14M859.7,416.4v14"/>
<path d="M929.4,423.4h14M936.4,416.4v14"/>
<path d="M1006.1,423.4h14M1013.1,416.4v14"/>
<path d="M1082.8,423.4h14M1089.8,416.4v14"/>
<path d="M1082.8,423.4h14M1089.8,416.4v14"/>
<path d="M1082.8,500.1h14M1089.8,493.1v14"/>
<path d="M1082.8,576.8h14M1089.8,569.8v14"/>
<path d="M1082.8,653.5h14M1089.8,646.5v14"/>
<path d="M1082.8,730.2h14M1089.8,723.2v14"/>
<path d="M1082.8,730.2h14M1089.8,723.2v14"/>
<path d="M1025.3,730.2h14M1032.3,723.2v14"/>
<path d="M967.8,730.2h14M974.8,723.2v14"/>
<path d="M910.2,730.2h14M917.2,723.2v14"/>
<path d="M852.7,730.2h14M859.7,723.2v14"/>
<path d="M776.0,653.5h14M783.0,646.5v14"/>
<path d="M852.7,730.2h14M859.7,723.2v14"/>
<path d="M790.0,654.8h14M797.0,647.8v14"/>
<path d="M804.2,658.9h14M811.2,651.9v14"/>
<path d="M818.0,666.0h14M825.0,659.0v14"/>
<path d="M830.2,676.0h14M837.2,669.0v14"/>
<path d="M840.2,688.2h14M847.2,681.2v14"/>
<path d="M847.3,702.0h14M854.3,695.0v14"/>
<path d="M851.4,716.2h14M858.4,709.2v14"/>
<path d="M783.0,653.5 L783.0,423.4 L1089.8,423.4 L1089.8,730.2 L859.7,730.2 A76.7,76.7 0 0 0 783.0,653.5 Z" stroke="#000" stroke-width="1.6"/>
</g>
<text x="868.6" y="763.9" font-size="24" fill="#000"><tspan fill="#1414b4">BIEM</tspan> based</text>
<text x="819" y="791.7" font-size="23.9" fill="#000">isogeometric analysis</text>
<linearGradient id="cb1" x1="0" y1="0" x2="0" y2="1"><stop offset="0.0000" stop-color="#820514"/><stop offset="0.0156" stop-color="#900514"/><stop offset="0.0312" stop-color="#9e0514"/><stop offset="0.0469" stop-color="#ae0515"/><stop offset="0.0625" stop-color="#bd0517"/><stop offset="0.0781" stop-color="#cd0518"/><stop offset="0.0938" stop-color="#dc061a"/><stop offset="0.1094" stop-color="#eb081c"/><stop offset="0.1250" stop-color="#fa0a1e"/><stop offset="0.1406" stop-color="#fa161d"/><stop offset="0.1562" stop-color="#fa221d"/><stop offset="0.1719" stop-color="#fa2e1c"/><stop offset="0.1875" stop-color="#fa3c1c"/><stop offset="0.2031" stop-color="#fb4d1c"/><stop offset="0.2188" stop-color="#fc5e1c"/><stop offset="0.2344" stop-color="#fc6e1c"/><stop offset="0.2500" stop-color="#fc7d1c"/><stop offset="0.2656" stop-color="#fc8d1c"/><stop offset="0.2812" stop-color="#fc9d1c"/><stop offset="0.2969" stop-color="#fdac1c"/><stop offset="0.3125" stop-color="#febc1c"/><stop offset="0.3281" stop-color="#ffcb1c"/><stop offset="0.3438" stop-color="#feda1c"/><stop offset="0.3594" stop-color="#fde91c"/><stop offset="0.3750" stop-color="#fcf81c"/><stop offset="0.3906" stop-color="#ecf921"/><stop offset="0.4062" stop-color="#dbf926"/><stop offset="0.4219" stop-color="#cbfa2b"/><stop offset="0.4375" stop-color="#bcfa35"/><stop offset="0.4531" stop-color="#acfa3f"/><stop offset="0.4688" stop-color="#9afa4b"/><stop offset="0.4844" stop-color="#83fb5f"/><stop offset="0.5000" stop-color="#6cfc74"/><stop offset="0.5156" stop-color="#56fb86"/><stop offset="0.5312" stop-color="#3dfa97"/><stop offset="0.5469" stop-color="#20f8a9"/><stop offset="0.5625" stop-color="#0df6b8"/><stop offset="0.5781" stop-color="#01f5c6"/><stop offset="0.5938" stop-color="#00f6d8"/><stop offset="0.6094" stop-color="#00f8ea"/><stop offset="0.6250" stop-color="#00fafc"/><stop offset="0.6406" stop-color="#00ecfc"/><stop offset="0.6562" stop-color="#00defc"/><stop offset="0.6719" stop-color="#00cffc"/><stop offset="0.6875" stop-color="#00c0fc"/><stop offset="0.7031" stop-color="#00b2fc"/><stop offset="0.7188" stop-color="#00a3fc"/><stop offset="0.7344" stop-color="#0092fb"/><stop offset="0.7500" stop-color="#0082fb"/><stop offset="0.7656" stop-color="#0071fa"/><stop offset="0.7812" stop-color="#0060fa"/><stop offset="0.7969" stop-color="#004ff9"/><stop offset="0.8125" stop-color="#003ef9"/><stop offset="0.8281" stop-color="#002ef8"/><stop offset="0.8438" stop-color="#0020f7"/><stop offset="0.8594" stop-color="#0014f6"/><stop offset="0.8750" stop-color="#0008f5"/><stop offset="0.8906" stop-color="#0008e3"/><stop offset="0.9062" stop-color="#0008d0"/><stop offset="0.9219" stop-color="#0008c1"/><stop offset="0.9375" stop-color="#0008b3"/><stop offset="0.9531" stop-color="#0008a6"/><stop offset="0.9688" stop-color="#00079a"/><stop offset="0.9844" stop-color="#000690"/><stop offset="1.0000" stop-color="#000585"/></linearGradient>
<rect x="1134.8" y="10.0" width="22.5" height="306.8" fill="url(#cb1)"/>
<text x="1133.3" y="15.0" font-size="13.8" fill="#3a3a3a" text-anchor="end">30</text>
<text x="1133.3" y="66.1" font-size="13.8" fill="#3a3a3a" text-anchor="end">25</text>
<text x="1133.3" y="117.3" font-size="13.8" fill="#3a3a3a" text-anchor="end">20</text>
<text x="1133.3" y="168.4" font-size="13.8" fill="#3a3a3a" text-anchor="end">15</text>
<text x="1133.3" y="219.5" font-size="13.8" fill="#3a3a3a" text-anchor="end">10</text>
<text x="1133.3" y="270.7" font-size="13.8" fill="#3a3a3a" text-anchor="end">5</text>
<text x="1133.3" y="321.8" font-size="13.8" fill="#3a3a3a" text-anchor="end">0</text>
<linearGradient id="cb2" x1="0" y1="0" x2="0" y2="1"><stop offset="0.0000" stop-color="#820514"/><stop offset="0.0156" stop-color="#900514"/><stop offset="0.0312" stop-color="#9e0514"/><stop offset="0.0469" stop-color="#ae0515"/><stop offset="0.0625" stop-color="#bd0517"/><stop offset="0.0781" stop-color="#cd0518"/><stop offset="0.0938" stop-color="#dc061a"/><stop offset="0.1094" stop-color="#eb081c"/><stop offset="0.1250" stop-color="#fa0a1e"/><stop offset="0.1406" stop-color="#fa161d"/><stop offset="0.1562" stop-color="#fa221d"/><stop offset="0.1719" stop-color="#fa2e1c"/><stop offset="0.1875" stop-color="#fa3c1c"/><stop offset="0.2031" stop-color="#fb4d1c"/><stop offset="0.2188" stop-color="#fc5e1c"/><stop offset="0.2344" stop-color="#fc6e1c"/><stop offset="0.2500" stop-color="#fc7d1c"/><stop offset="0.2656" stop-color="#fc8d1c"/><stop offset="0.2812" stop-color="#fc9d1c"/><stop offset="0.2969" stop-color="#fdac1c"/><stop offset="0.3125" stop-color="#febc1c"/><stop offset="0.3281" stop-color="#ffcb1c"/><stop offset="0.3438" stop-color="#feda1c"/><stop offset="0.3594" stop-color="#fde91c"/><stop offset="0.3750" stop-color="#fcf81c"/><stop offset="0.3906" stop-color="#ecf921"/><stop offset="0.4062" stop-color="#dbf926"/><stop offset="0.4219" stop-color="#cbfa2b"/><stop offset="0.4375" stop-color="#bcfa35"/><stop offset="0.4531" stop-color="#acfa3f"/><stop offset="0.4688" stop-color="#9afa4b"/><stop offset="0.4844" stop-color="#83fb5f"/><stop offset="0.5000" stop-color="#6cfc74"/><stop offset="0.5156" stop-color="#56fb86"/><stop offset="0.5312" stop-color="#3dfa97"/><stop offset="0.5469" stop-color="#20f8a9"/><stop offset="0.5625" stop-color="#0df6b8"/><stop offset="0.5781" stop-color="#01f5c6"/><stop offset="0.5938" stop-color="#00f6d8"/><stop offset="0.6094" stop-color="#00f8ea"/><stop offset="0.6250" stop-color="#00fafc"/><stop offset="0.6406" stop-color="#00ecfc"/><stop offset="0.6562" stop-color="#00defc"/><stop offset="0.6719" stop-color="#00cffc"/><stop offset="0.6875" stop-color="#00c0fc"/><stop offset="0.7031" stop-color="#00b2fc"/><stop offset="0.7188" stop-color="#00a3fc"/><stop offset="0.7344" stop-color="#0092fb"/><stop offset="0.7500" stop-color="#0082fb"/><stop offset="0.7656" stop-color="#0071fa"/><stop offset="0.7812" stop-color="#0060fa"/><stop offset="0.7969" stop-color="#004ff9"/><stop offset="0.8125" stop-color="#003ef9"/><stop offset="0.8281" stop-color="#002ef8"/><stop offset="0.8438" stop-color="#0020f7"/><stop offset="0.8594" stop-color="#0014f6"/><stop offset="0.8750" stop-color="#0008f5"/><stop offset="0.8906" stop-color="#0008e3"/><stop offset="0.9062" stop-color="#0008d0"/><stop offset="0.9219" stop-color="#0008c1"/><stop offset="0.9375" stop-color="#0008b3"/><stop offset="0.9531" stop-color="#0008a6"/><stop offset="0.9688" stop-color="#00079a"/><stop offset="0.9844" stop-color="#000690"/><stop offset="1.0000" stop-color="#000585"/></linearGradient>
<rect x="1134.0" y="423.0" width="22.5" height="306.3" fill="url(#cb2)"/>
<text x="1131.2" y="428.0" font-size="13.8" fill="#3a3a3a" text-anchor="end">30</text>
<text x="1131.2" y="479.1" font-size="13.8" fill="#3a3a3a" text-anchor="end">25</text>
<text x="1131.2" y="530.1" font-size="13.8" fill="#3a3a3a" text-anchor="end">20</text>
<text x="1131.2" y="581.1" font-size="13.8" fill="#3a3a3a" text-anchor="end">15</text>
<text x="1131.2" y="632.2" font-size="13.8" fill="#3a3a3a" text-anchor="end">10</text>
<text x="1131.2" y="683.2" font-size="13.8" fill="#3a3a3a" text-anchor="end">5</text>
<text x="1131.2" y="734.3" font-size="13.8" fill="#3a3a3a" text-anchor="end">0</text>
</svg></body></html>
